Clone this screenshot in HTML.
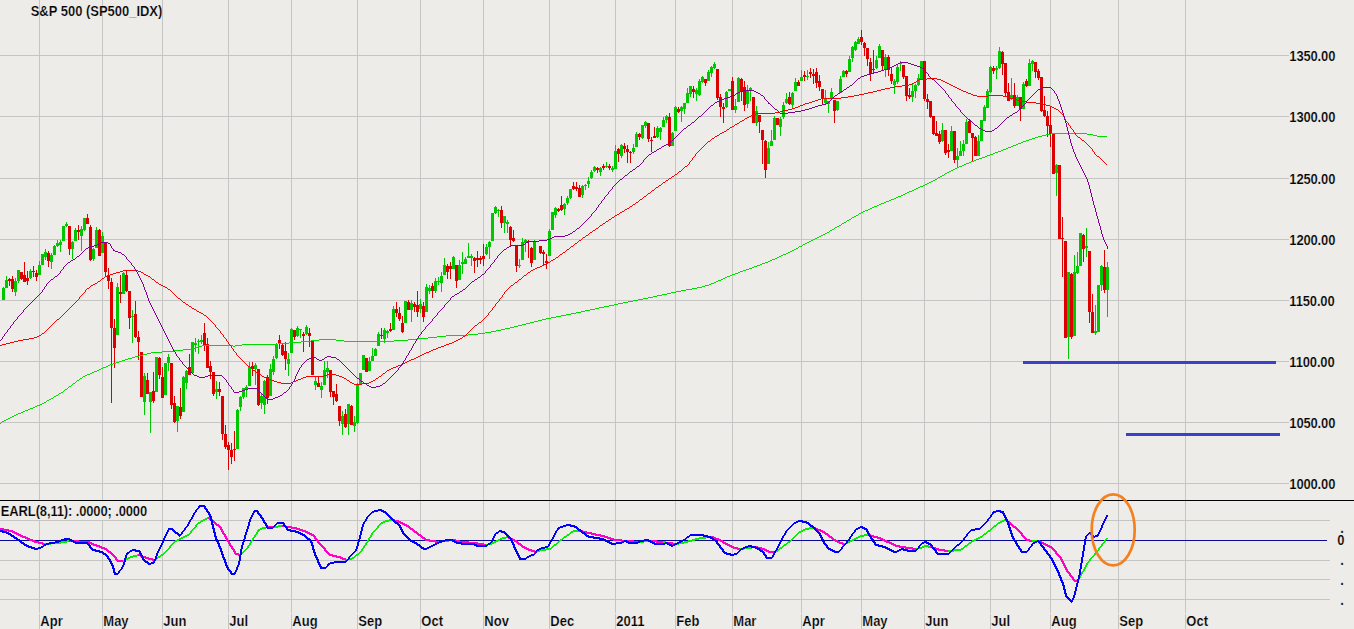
<!DOCTYPE html>
<html><head><meta charset="utf-8"><title>S&amp;P 500</title>
<style>
html,body{margin:0;padding:0;background:#EEECE8;}
body{width:1354px;height:629px;overflow:hidden;position:relative;font-family:"Liberation Sans",sans-serif;}
.t{position:absolute;white-space:nowrap;font-weight:bold;color:#000;line-height:1;font-family:"Liberation Sans",sans-serif;transform:scaleY(1.12);-webkit-text-stroke:0.2px #EEECE8;transform-origin:0 84.65%;}
</style></head><body>
<svg width="1354" height="629" viewBox="0 0 1354 629" style="position:absolute;left:0;top:0">
<rect x="0" y="0" width="1354" height="629" fill="#EEECE8"/>
<g shape-rendering="crispEdges" fill="#C5C5C3">
<rect x="39" y="0" width="1" height="629"/>
<rect x="102" y="0" width="1" height="629"/>
<rect x="162" y="0" width="1" height="629"/>
<rect x="228" y="0" width="1" height="629"/>
<rect x="291" y="0" width="1" height="629"/>
<rect x="357" y="0" width="1" height="629"/>
<rect x="420" y="0" width="1" height="629"/>
<rect x="483" y="0" width="1" height="629"/>
<rect x="549" y="0" width="1" height="629"/>
<rect x="615" y="0" width="1" height="629"/>
<rect x="675" y="0" width="1" height="629"/>
<rect x="732" y="0" width="1" height="629"/>
<rect x="801" y="0" width="1" height="629"/>
<rect x="861" y="0" width="1" height="629"/>
<rect x="924" y="0" width="1" height="629"/>
<rect x="990" y="0" width="1" height="629"/>
<rect x="1050" y="0" width="1" height="629"/>
<rect x="1118" y="0" width="1" height="629"/>
<rect x="1185" y="0" width="1" height="629"/>
<rect x="0" y="55" width="1289" height="1"/>
<rect x="0" y="116" width="1289" height="1"/>
<rect x="0" y="178" width="1289" height="1"/>
<rect x="0" y="239" width="1289" height="1"/>
<rect x="0" y="300" width="1289" height="1"/>
<rect x="0" y="361" width="1289" height="1"/>
<rect x="0" y="422" width="1289" height="1"/>
<rect x="0" y="483" width="1289" height="1"/>
<rect x="0" y="520" width="1330" height="1"/>
<rect x="0" y="560" width="1330" height="1"/>
<rect x="0" y="579" width="1330" height="1"/>
<rect x="0" y="599" width="1330" height="1"/>
</g>
<g shape-rendering="crispEdges">
<rect x="0" y="613" width="1200" height="1" fill="#EEECE8"/>
<rect x="0" y="500" width="1354" height="1" fill="#000"/>
<rect x="0" y="540" width="1327" height="1" fill="#0A0A96"/>
<rect x="0" y="501" width="150" height="19" fill="#EEECE8"/>
</g>
<g shape-rendering="crispEdges">
<path fill="#00C800" d="M3 287h1V300h-1zM2 288h3V300h-3zM6 276h1V288h-1zM5 280h3V288h-3zM15 278h1V296h-1zM14 281h3V292h-3zM18 270h1V283h-1zM17 270h3V281h-3zM30 269h1V279h-1zM29 271h3V278h-3zM39 261h1V275h-1zM38 265h3V275h-3zM42 254h1V265h-1zM41 254h3V265h-3zM45 249h1V260h-1zM44 252h3V257h-3zM51 253h1V269h-1zM50 255h3V262h-3zM54 245h1V255h-1zM53 246h3V255h-3zM57 240h1V247h-1zM56 243h3V246h-3zM60 240h1V252h-1zM59 242h3V245h-3zM63 226h1V241h-1zM62 226h3V241h-3zM66 222h1V227h-1zM65 224h3V226h-3zM72 241h1V259h-1zM71 242h3V249h-3zM75 228h1V241h-1zM74 230h3V241h-3zM81 226h1V251h-1zM80 229h3V236h-3zM84 218h1V231h-1zM83 218h3V230h-3zM93 248h1V261h-1zM92 249h3V259h-3zM96 227h1V248h-1zM95 230h3V248h-3zM102 232h1V253h-1zM101 236h3V253h-3zM117 283h1V335h-1zM116 287h3V335h-3zM123 272h1V294h-1zM122 273h3V294h-3zM132 310h1V343h-1zM131 316h3V317h-3zM144 373h1V415h-1zM143 376h3V402h-3zM150 392h1V433h-1zM149 392h3V402h-3zM156 357h1V392h-1zM155 357h3V392h-3zM165 363h1V395h-1zM164 363h3V395h-3zM168 354h1V371h-1zM167 357h3V363h-3zM177 406h1V432h-1zM176 406h3V421h-3zM183 376h1V412h-1zM182 377h3V412h-3zM186 370h1V389h-1zM185 371h3V383h-3zM192 342h1V373h-1zM191 342h3V373h-3zM195 338h1V352h-1zM194 343h3V345h-3zM198 339h1V354h-1zM197 341h3V342h-3zM201 335h1V344h-1zM200 340h3V342h-3zM216 381h1V399h-1zM215 389h3V392h-3zM237 409h1V449h-1zM236 410h3V449h-3zM240 396h1V411h-1zM239 397h3V407h-3zM243 388h1V399h-1zM242 388h3V397h-3zM246 385h1V397h-1zM245 387h3V390h-3zM249 362h1V386h-1zM248 367h3V386h-3zM255 363h1V385h-1zM254 365h3V369h-3zM261 394h1V409h-1zM260 396h3V403h-3zM264 380h1V414h-1zM263 381h3V405h-3zM270 364h1V396h-1zM269 369h3V396h-3zM273 356h1V375h-1zM272 359h3V372h-3zM276 343h1V359h-1zM275 344h3V358h-3zM288 353h1V376h-1zM287 359h3V364h-3zM291 328h1V353h-1zM290 329h3V353h-3zM297 326h1V337h-1zM296 328h3V336h-3zM300 329h1V338h-1zM299 329h3V330h-3zM306 325h1V335h-1zM305 327h3V334h-3zM315 377h1V390h-1zM314 381h3V385h-3zM321 382h1V398h-1zM320 386h3V390h-3zM324 361h1V385h-1zM323 370h3V385h-3zM327 361h1V378h-1zM326 368h3V372h-3zM342 411h1V435h-1zM341 416h3V424h-3zM348 404h1V435h-1zM347 404h3V424h-3zM354 416h1V432h-1zM353 422h3V426h-3zM357 383h1V424h-1zM356 384h3V423h-3zM360 373h1V384h-1zM359 373h3V384h-3zM363 355h1V370h-1zM362 355h3V370h-3zM369 357h1V371h-1zM368 361h3V371h-3zM372 348h1V361h-1zM371 356h3V361h-3zM375 348h1V356h-1zM374 349h3V356h-3zM378 332h1V346h-1zM377 334h3V346h-3zM384 328h1V343h-1zM383 330h3V339h-3zM387 330h1V338h-1zM386 331h3V333h-3zM393 306h1V330h-1zM392 309h3V330h-3zM405 301h1V323h-1zM404 301h3V323h-3zM411 300h1V322h-1zM410 303h3V310h-3zM420 299h1V313h-1zM419 304h3V309h-3zM426 284h1V312h-1zM425 287h3V312h-3zM429 285h1V294h-1zM428 288h3V291h-3zM435 278h1V293h-1zM434 281h3V291h-3zM438 277h1V285h-1zM437 281h3V282h-3zM441 272h1V292h-1zM440 276h3V283h-3zM444 258h1V275h-1zM443 265h3V275h-3zM453 256h1V269h-1zM452 257h3V269h-3zM459 260h1V280h-1zM458 265h3V280h-3zM462 252h1V274h-1zM461 262h3V264h-3zM465 257h1V264h-1zM464 259h3V264h-3zM468 243h1V258h-1zM467 256h3V258h-3zM471 254h1V266h-1zM470 256h3V258h-3zM486 244h1V255h-1zM485 247h3V254h-3zM489 241h1V259h-1zM488 242h3V247h-3zM492 213h1V241h-1zM491 213h3V241h-3zM495 206h1V214h-1zM494 207h3V213h-3zM498 209h1V217h-1zM497 210h3V211h-3zM504 216h1V233h-1zM503 216h3V223h-3zM507 220h1V233h-1zM506 222h3V224h-3zM519 259h1V268h-1zM518 265h3V266h-3zM522 238h1V260h-1zM521 242h3V260h-3zM525 239h1V252h-1zM524 240h3V243h-3zM534 240h1V260h-1zM533 242h3V260h-3zM549 229h1V256h-1zM548 231h3V256h-3zM552 212h1V230h-1zM551 212h3V230h-3zM555 207h1V218h-1zM554 208h3V215h-3zM564 203h1V215h-1zM563 204h3V209h-3zM567 196h1V205h-1zM566 198h3V203h-3zM570 189h1V199h-1zM569 189h3V198h-3zM582 185h1V198h-1zM581 186h3V195h-3zM585 184h1V190h-1zM584 185h3V186h-3zM588 177h1V188h-1zM587 181h3V184h-3zM591 170h1V179h-1zM590 172h3V178h-3zM594 166h1V172h-1zM593 167h3V171h-3zM600 167h1V176h-1zM599 168h3V172h-3zM606 162h1V168h-1zM605 166h3V167h-3zM612 166h1V172h-1zM611 168h3V170h-3zM615 145h1V169h-1zM614 151h3V169h-3zM621 144h1V158h-1zM620 145h3V156h-3zM633 144h1V154h-1zM632 148h3V152h-3zM636 132h1V147h-1zM635 134h3V147h-3zM642 125h1V139h-1zM641 125h3V138h-3zM645 121h1V128h-1zM644 122h3V126h-3zM657 126h1V138h-1zM656 128h3V137h-3zM660 127h1V140h-1zM659 128h3V132h-3zM663 117h1V127h-1zM662 120h3V127h-3zM666 115h1V123h-1zM665 116h3V120h-3zM672 132h1V146h-1zM671 133h3V146h-3zM675 106h1V131h-1zM674 107h3V131h-3zM681 106h1V122h-1zM680 107h3V111h-3zM684 103h1V114h-1zM683 103h3V109h-3zM687 88h1V103h-1zM686 93h3V103h-3zM690 86h1V97h-1zM689 86h3V94h-3zM696 88h1V101h-1zM695 90h3V94h-3zM699 79h1V96h-1zM698 81h3V95h-3zM702 76h1V83h-1zM701 77h3V82h-3zM708 70h1V81h-1zM707 72h3V81h-3zM711 66h1V77h-1zM710 67h3V73h-3zM714 62h1V69h-1zM713 64h3V68h-3zM726 91h1V108h-1zM725 92h3V107h-3zM729 89h1V91h-1zM728 89h3V91h-3zM735 99h1V113h-1zM734 106h3V110h-3zM738 77h1V102h-1zM737 78h3V102h-3zM747 85h1V108h-1zM746 90h3V104h-3zM750 87h1V101h-1zM749 88h3V90h-3zM756 106h1V126h-1zM755 111h3V123h-3zM768 142h1V164h-1zM767 148h3V164h-3zM771 130h1V146h-1zM770 141h3V146h-3zM774 116h1V140h-1zM773 118h3V140h-3zM780 117h1V136h-1zM779 119h3V127h-3zM783 102h1V119h-1zM782 105h3V117h-3zM786 93h1V104h-1zM785 99h3V103h-3zM792 92h1V109h-1zM791 93h3V105h-3zM795 78h1V91h-1zM794 82h3V91h-3zM801 70h1V81h-1zM800 77h3V81h-3zM807 70h1V80h-1zM806 76h3V77h-3zM825 90h1V105h-1zM824 98h3V103h-3zM828 101h1V113h-1zM827 101h3V104h-3zM831 88h1V98h-1zM830 92h3V98h-3zM837 101h1V111h-1zM836 101h3V110h-3zM840 76h1V93h-1zM839 79h3V93h-3zM843 70h1V77h-1zM842 71h3V77h-3zM849 56h1V72h-1zM848 59h3V72h-3zM852 46h1V62h-1zM851 47h3V58h-3zM855 41h1V51h-1zM854 42h3V50h-3zM858 37h1V44h-1zM857 39h3V44h-3zM876 56h1V69h-1zM875 60h3V68h-3zM879 44h1V58h-1zM878 46h3V58h-3zM885 54h1V77h-1zM884 57h3V69h-3zM894 79h1V94h-1zM893 81h3V85h-3zM897 65h1V84h-1zM896 67h3V82h-3zM900 61h1V71h-1zM899 63h3V64h-3zM912 84h1V102h-1zM911 91h3V97h-3zM915 84h1V98h-1zM914 85h3V91h-3zM918 74h1V86h-1zM917 78h3V85h-3zM921 61h1V80h-1zM920 61h3V80h-3zM942 123h1V142h-1zM941 130h3V141h-3zM951 126h1V151h-1zM950 131h3V151h-3zM957 148h1V167h-1zM956 156h3V160h-3zM960 141h1V156h-1zM959 151h3V156h-3zM963 140h1V156h-1zM962 144h3V151h-3zM966 119h1V144h-1zM965 122h3V144h-3zM978 135h1V156h-1zM977 141h3V156h-3zM981 120h1V141h-1zM980 120h3V141h-3zM984 105h1V121h-1zM983 107h3V121h-3zM987 89h1V108h-1zM986 91h3V108h-3zM990 66h1V93h-1zM989 67h3V92h-3zM996 66h1V79h-1zM995 68h3V70h-3zM999 47h1V69h-1zM998 51h3V68h-3zM1011 78h1V100h-1zM1010 95h3V99h-3zM1017 95h1V106h-1zM1016 97h3V106h-3zM1023 82h1V109h-1zM1022 84h3V109h-3zM1029 59h1V86h-1zM1028 63h3V86h-3zM1032 60h1V71h-1zM1031 61h3V64h-3zM1056 164h1V196h-1zM1055 165h3V173h-3zM1068 272h1V359h-1zM1067 272h3V337h-3zM1074 255h1V336h-1zM1073 272h3V336h-3zM1077 252h1V274h-1zM1076 266h3V273h-3zM1080 233h1V266h-1zM1079 233h3V266h-3zM1086 228h1V257h-1zM1085 246h3V248h-3zM1095 305h1V335h-1zM1094 331h3V333h-3zM1098 285h1V332h-1zM1097 285h3V332h-3zM1101 265h1V291h-1zM1100 266h3V285h-3zM1107 262h1V317h-1zM1106 267h3V290h-3z"/>
<path fill="#DC0000" d="M9 278h1V286h-1zM8 279h3V281h-3zM12 276h1V292h-1zM11 279h3V289h-3zM21 272h1V280h-1zM20 272h3V279h-3zM24 262h1V282h-1zM23 275h3V282h-3zM27 271h1V285h-1zM26 278h3V281h-3zM33 266h1V277h-1zM32 271h3V272h-3zM36 270h1V281h-1zM35 273h3V277h-3zM48 251h1V267h-1zM47 253h3V261h-3zM69 226h1V255h-1zM68 226h3V249h-3zM78 225h1V240h-1zM77 230h3V232h-3zM87 214h1V224h-1zM86 218h3V224h-3zM90 225h1V261h-1zM89 227h3V260h-3zM99 229h1V256h-1zM98 230h3V256h-3zM105 242h1V277h-1zM104 243h3V272h-3zM108 268h1V289h-1zM107 276h3V281h-3zM111 278h1V403h-1zM110 282h3V328h-3zM114 319h1V368h-1zM113 328h3V348h-3zM120 275h1V303h-1zM119 292h3V294h-3zM126 271h1V292h-1zM125 275h3V291h-3zM129 291h1V329h-1zM128 291h3V318h-3zM135 301h1V338h-1zM134 314h3V337h-3zM138 331h1V360h-1zM137 337h3V342h-3zM141 352h1V397h-1zM140 352h3V397h-3zM147 373h1V394h-1zM146 380h3V394h-3zM153 372h1V403h-1zM152 391h3V401h-3zM159 357h1V379h-1zM158 358h3V375h-3zM162 367h1V398h-1zM161 377h3V398h-3zM171 363h1V409h-1zM170 363h3V405h-3zM174 396h1V423h-1zM173 403h3V422h-3zM180 388h1V419h-1zM179 407h3V416h-3zM189 354h1V375h-1zM188 367h3V375h-3zM204 323h1V351h-1zM203 333h3V346h-3zM207 338h1V368h-1zM206 344h3V368h-3zM210 361h1V379h-1zM209 366h3V372h-3zM213 372h1V396h-1zM212 372h3V394h-3zM219 382h1V396h-1zM218 389h3V392h-3zM222 396h1V440h-1zM221 396h3V434h-3zM225 425h1V449h-1zM224 434h3V447h-3zM228 442h1V470h-1zM227 445h3V450h-3zM231 443h1V464h-1zM230 450h3V457h-3zM234 431h1V461h-1zM233 449h3V450h-3zM252 362h1V376h-1zM251 366h3V369h-3zM258 369h1V406h-1zM257 369h3V405h-3zM267 375h1V404h-1zM266 377h3V398h-3zM279 335h1V349h-1zM278 340h3V344h-3zM282 344h1V356h-1zM281 345h3V355h-3zM285 342h1V370h-1zM284 351h3V359h-3zM294 330h1V340h-1zM293 330h3V337h-3zM303 332h1V352h-1zM302 334h3V336h-3zM309 328h1V347h-1zM308 333h3V336h-3zM312 341h1V375h-1zM311 341h3V375h-3zM318 377h1V387h-1zM317 383h3V387h-3zM330 370h1V397h-1zM329 370h3V392h-3zM333 391h1V405h-1zM332 391h3V397h-3zM336 384h1V402h-1zM335 394h3V401h-3zM339 406h1V426h-1zM338 406h3V421h-3zM345 409h1V428h-1zM344 414h3V427h-3zM351 405h1V425h-1zM350 406h3V425h-3zM366 358h1V372h-1zM365 358h3V372h-3zM381 328h1V339h-1zM380 335h3V336h-3zM390 323h1V332h-1zM389 329h3V331h-3zM396 302h1V317h-1zM395 309h3V313h-3zM399 307h1V321h-1zM398 313h3V319h-3zM402 316h1V333h-1zM401 323h3V332h-3zM408 300h1V310h-1zM407 302h3V310h-3zM414 302h1V312h-1zM413 304h3V307h-3zM417 291h1V317h-1zM416 305h3V312h-3zM423 302h1V322h-1zM422 306h3V317h-3zM432 283h1V298h-1zM431 286h3V291h-3zM447 264h1V279h-1zM446 266h3V272h-3zM450 262h1V279h-1zM449 266h3V269h-3zM456 265h1V288h-1zM455 265h3V281h-3zM474 257h1V273h-1zM473 258h3V261h-3zM477 251h1V267h-1zM476 258h3V260h-3zM480 256h1V264h-1zM479 258h3V260h-3zM483 244h1V266h-1zM482 256h3V259h-3zM501 206h1V228h-1zM500 210h3V223h-3zM510 226h1V246h-1zM509 227h3V240h-3zM513 230h1V242h-1zM512 238h3V241h-3zM516 245h1V272h-1zM515 246h3V266h-3zM528 240h1V258h-1zM527 241h3V242h-3zM531 247h1V267h-1zM530 248h3V263h-3zM540 246h1V254h-1zM539 246h3V253h-3zM543 250h1V265h-1zM542 252h3V254h-3zM546 254h1V269h-1zM545 261h3V263h-3zM558 208h1V212h-1zM557 209h3V211h-3zM561 196h1V211h-1zM560 205h3V210h-3zM573 182h1V190h-1zM572 186h3V189h-3zM576 182h1V191h-1zM575 187h3V189h-3zM579 185h1V197h-1zM578 188h3V197h-3zM597 167h1V173h-1zM596 168h3V170h-3zM603 164h1V170h-1zM602 166h3V168h-3zM609 164h1V170h-1zM608 166h3V168h-3zM618 148h1V162h-1zM617 149h3V154h-3zM624 143h1V153h-1zM623 146h3V149h-3zM627 145h1V163h-1zM626 149h3V152h-3zM630 151h1V163h-1zM629 152h3V153h-3zM639 133h1V140h-1zM638 134h3V137h-3zM648 123h1V142h-1zM647 123h3V139h-3zM651 137h1V152h-1zM650 140h3V141h-3zM654 127h1V138h-1zM653 136h3V138h-3zM669 113h1V147h-1zM668 117h3V146h-3zM678 107h1V113h-1zM677 109h3V112h-3zM693 86h1V98h-1zM692 89h3V92h-3zM705 79h1V86h-1zM704 79h3V83h-3zM717 69h1V100h-1zM716 69h3V98h-3zM720 94h1V117h-1zM719 97h3V107h-3zM723 103h1V123h-1zM722 107h3V109h-3zM732 77h1V110h-1zM731 81h3V110h-3zM741 78h1V101h-1zM740 79h3V91h-3zM744 81h1V111h-1zM743 87h3V105h-3zM753 97h1V123h-1zM752 97h3V123h-3zM759 115h1V133h-1zM758 115h3V122h-3zM762 130h1V164h-1zM761 130h3V140h-3zM765 140h1V178h-1zM764 141h3V170h-3zM777 118h1V125h-1zM776 118h3V125h-3zM789 92h1V105h-1zM788 97h3V104h-3zM798 80h1V86h-1zM797 82h3V86h-3zM804 71h1V81h-1zM803 75h3V77h-3zM810 68h1V78h-1zM809 72h3V74h-3zM813 69h1V84h-1zM812 74h3V76h-3zM816 68h1V88h-1zM815 72h3V83h-3zM819 75h1V91h-1zM818 81h3V87h-3zM822 89h1V104h-1zM821 89h3V99h-3zM834 100h1V123h-1zM833 100h3V111h-3zM846 70h1V77h-1zM845 71h3V74h-3zM861 30h1V45h-1zM860 37h3V42h-3zM864 42h1V56h-1zM863 43h3V48h-3zM867 48h1V66h-1zM866 48h3V59h-3zM870 58h1V81h-1zM869 62h3V74h-3zM873 50h1V74h-1zM872 69h3V70h-3zM882 50h1V71h-1zM881 50h3V66h-3zM888 55h1V76h-1zM887 57h3V70h-3zM891 67h1V84h-1zM890 74h3V81h-3zM903 65h1V79h-1zM902 65h3V77h-3zM906 76h1V101h-1zM905 76h3V96h-3zM909 88h1V99h-1zM908 95h3V97h-3zM924 61h1V101h-1zM923 61h3V99h-3zM927 94h1V109h-1zM926 99h3V102h-3zM930 101h1V118h-1zM929 101h3V117h-3zM933 116h1V135h-1zM932 116h3V134h-3zM936 121h1V136h-1zM935 133h3V136h-3zM939 131h1V144h-1zM938 134h3V142h-3zM945 130h1V155h-1zM944 130h3V153h-3zM948 144h1V158h-1zM947 150h3V152h-3zM954 131h1V163h-1zM953 131h3V160h-3zM969 119h1V133h-1zM968 121h3V133h-3zM972 133h1V161h-1zM971 133h3V138h-3zM975 136h1V156h-1zM974 137h3V156h-3zM993 66h1V74h-1zM992 68h3V71h-3zM1002 51h1V75h-1zM1001 52h3V64h-3zM1005 63h1V96h-1zM1004 63h3V93h-3zM1008 83h1V101h-1zM1007 92h3V101h-3zM1014 83h1V108h-1zM1013 95h3V106h-3zM1020 97h1V121h-1zM1019 97h3V109h-3zM1026 79h1V87h-1zM1025 81h3V86h-3zM1035 62h1V78h-1zM1034 62h3V72h-3zM1038 69h1V80h-1zM1037 71h3V78h-3zM1041 77h1V112h-1zM1040 77h3V111h-3zM1044 96h1V117h-1zM1043 110h3V116h-3zM1047 111h1V137h-1zM1046 116h3V126h-3zM1050 107h1V147h-1zM1049 125h3V134h-3zM1053 133h1V174h-1zM1052 134h3V174h-3zM1059 165h1V239h-1zM1058 165h3V239h-3zM1062 217h1V277h-1zM1061 238h3V239h-3zM1065 241h1V338h-1zM1064 241h3V338h-3zM1071 273h1V339h-1zM1070 274h3V337h-3zM1083 234h1V262h-1zM1082 235h3V249h-3zM1089 251h1V323h-1zM1088 251h3V312h-3zM1092 294h1V333h-1zM1091 312h3V333h-3zM1104 250h1V293h-1zM1103 267h3V290h-3z"/>
</g>
<path fill="#00DC00" shape-rendering="crispEdges" d="M0 423h1v1h-1zM1 422h1v1h-1zM2 421h1v1h-1zM3 421h1v1h-1zM4 420h1v1h-1zM5 420h1v1h-1zM6 419h1v1h-1zM7 419h1v1h-1zM8 418h1v1h-1zM9 418h1v1h-1zM10 417h1v1h-1zM11 417h1v1h-1zM12 416h1v1h-1zM13 416h1v1h-1zM14 415h1v1h-1zM15 415h1v1h-1zM16 414h1v1h-1zM17 414h1v1h-1zM18 413h1v1h-1zM19 413h1v1h-1zM20 413h1v1h-1zM21 412h1v1h-1zM22 412h1v1h-1zM23 411h1v1h-1zM24 411h1v1h-1zM25 410h1v1h-1zM26 410h1v1h-1zM27 410h1v1h-1zM28 409h1v1h-1zM29 409h1v1h-1zM30 408h1v1h-1zM31 408h1v1h-1zM32 408h1v1h-1zM33 407h1v1h-1zM34 407h1v1h-1zM35 406h1v1h-1zM36 406h1v1h-1zM37 405h1v1h-1zM38 405h1v1h-1zM39 405h1v1h-1zM40 404h1v1h-1zM41 404h1v1h-1zM42 403h1v1h-1zM43 403h1v1h-1zM44 402h1v1h-1zM45 402h1v1h-1zM46 401h1v1h-1zM47 400h1v1h-1zM48 400h1v1h-1zM49 399h1v1h-1zM50 399h1v1h-1zM51 398h1v1h-1zM52 398h1v1h-1zM53 397h1v1h-1zM54 396h1v1h-1zM55 396h1v1h-1zM56 395h1v1h-1zM57 395h1v1h-1zM58 394h1v1h-1zM59 393h1v1h-1zM60 393h1v1h-1zM61 392h1v1h-1zM62 392h1v1h-1zM63 391h1v1h-1zM64 390h1v1h-1zM65 389h1v1h-1zM66 389h1v1h-1zM67 388h1v1h-1zM68 387h1v1h-1zM69 386h1v1h-1zM70 386h1v1h-1zM71 385h1v1h-1zM72 384h1v1h-1zM73 383h1v1h-1zM74 383h1v1h-1zM75 382h1v1h-1zM76 381h1v1h-1zM77 380h1v1h-1zM78 380h1v1h-1zM79 379h1v1h-1zM80 378h1v1h-1zM81 378h1v1h-1zM82 377h1v1h-1zM83 376h1v1h-1zM84 376h1v1h-1zM85 375h1v1h-1zM86 375h1v1h-1zM87 374h1v1h-1zM88 374h1v1h-1zM89 374h1v1h-1zM90 373h1v1h-1zM91 373h1v1h-1zM92 372h1v1h-1zM93 372h1v1h-1zM94 371h1v1h-1zM95 371h1v1h-1zM96 371h1v1h-1zM97 370h1v1h-1zM98 370h1v1h-1zM99 369h1v1h-1zM100 369h1v1h-1zM101 368h1v1h-1zM102 368h1v1h-1zM103 367h1v1h-1zM104 367h1v1h-1zM105 367h1v1h-1zM106 366h1v1h-1zM107 366h1v1h-1zM108 365h1v1h-1zM109 365h1v1h-1zM110 364h1v1h-1zM111 364h1v1h-1zM112 364h1v1h-1zM113 363h1v1h-1zM114 363h1v1h-1zM115 363h1v1h-1zM116 362h1v1h-1zM117 362h1v1h-1zM118 362h1v1h-1zM119 361h1v1h-1zM120 361h1v1h-1zM121 361h1v1h-1zM122 360h1v1h-1zM123 360h1v1h-1zM124 360h1v1h-1zM125 359h1v1h-1zM126 359h1v1h-1zM127 359h1v1h-1zM128 358h1v1h-1zM129 358h1v1h-1zM130 358h1v1h-1zM131 358h1v1h-1zM132 357h1v1h-1zM133 357h1v1h-1zM134 357h1v1h-1zM135 356h1v1h-1zM136 356h1v1h-1zM137 356h1v1h-1zM138 356h1v1h-1zM139 355h1v1h-1zM140 355h1v1h-1zM141 355h1v1h-1zM142 355h1v1h-1zM143 354h1v1h-1zM144 354h1v1h-1zM145 354h1v1h-1zM146 354h1v1h-1zM147 353h1v1h-1zM148 353h1v1h-1zM149 353h1v1h-1zM150 353h1v1h-1zM151 352h1v1h-1zM152 352h1v1h-1zM153 352h1v1h-1zM154 352h1v1h-1zM155 352h1v1h-1zM156 352h1v1h-1zM157 352h1v1h-1zM158 352h1v1h-1zM159 352h1v1h-1zM160 352h1v1h-1zM161 352h1v1h-1zM162 351h1v1h-1zM163 351h1v1h-1zM164 351h1v1h-1zM165 351h1v1h-1zM166 351h1v1h-1zM167 351h1v1h-1zM168 351h1v1h-1zM169 351h1v1h-1zM170 351h1v1h-1zM171 351h1v1h-1zM172 351h1v1h-1zM173 351h1v1h-1zM174 350h1v1h-1zM175 350h1v1h-1zM176 350h1v1h-1zM177 350h1v1h-1zM178 350h1v1h-1zM179 350h1v1h-1zM180 350h1v1h-1zM181 350h1v1h-1zM182 350h1v1h-1zM183 349h1v1h-1zM184 349h1v1h-1zM185 349h1v1h-1zM186 349h1v1h-1zM187 349h1v1h-1zM188 349h1v1h-1zM189 349h1v1h-1zM190 349h1v1h-1zM191 349h1v1h-1zM192 349h1v1h-1zM193 348h1v1h-1zM194 348h1v1h-1zM195 348h1v1h-1zM196 347h1v1h-1zM197 347h1v1h-1zM198 346h1v1h-1zM199 346h1v1h-1zM200 346h1v1h-1zM201 346h1v1h-1zM202 345h1v1h-1zM203 345h1v1h-1zM204 345h1v1h-1zM205 345h1v1h-1zM206 345h1v1h-1zM207 345h1v1h-1zM208 345h1v1h-1zM209 345h1v1h-1zM210 345h1v1h-1zM211 345h1v1h-1zM212 345h1v1h-1zM213 345h1v1h-1zM214 345h1v1h-1zM215 345h1v1h-1zM216 345h1v1h-1zM217 345h1v1h-1zM218 345h1v1h-1zM219 345h1v1h-1zM220 345h1v1h-1zM221 345h1v1h-1zM222 345h1v1h-1zM223 345h1v1h-1zM224 345h1v1h-1zM225 345h1v1h-1zM226 345h1v1h-1zM227 345h1v1h-1zM228 345h1v1h-1zM229 345h1v1h-1zM230 345h1v1h-1zM231 345h1v1h-1zM232 345h1v1h-1zM233 346h1v1h-1zM234 346h1v1h-1zM235 345h1v1h-1zM236 345h1v1h-1zM237 345h1v1h-1zM238 345h1v1h-1zM239 345h1v1h-1zM240 345h1v1h-1zM241 345h1v1h-1zM242 344h1v1h-1zM243 344h1v1h-1zM244 344h1v1h-1zM245 344h1v1h-1zM246 344h1v1h-1zM247 344h1v1h-1zM248 344h1v1h-1zM249 344h1v1h-1zM250 344h1v1h-1zM251 344h1v1h-1zM252 344h1v1h-1zM253 344h1v1h-1zM254 344h1v1h-1zM255 344h1v1h-1zM256 344h1v1h-1zM257 344h1v1h-1zM258 344h1v1h-1zM259 344h1v1h-1zM260 344h1v1h-1zM261 344h1v1h-1zM262 344h1v1h-1zM263 344h1v1h-1zM264 344h1v1h-1zM265 344h1v1h-1zM266 344h1v1h-1zM267 344h1v1h-1zM268 344h1v1h-1zM269 344h1v1h-1zM270 344h1v1h-1zM271 344h1v1h-1zM272 344h1v1h-1zM273 344h1v1h-1zM274 344h1v1h-1zM275 344h1v1h-1zM276 344h1v1h-1zM277 344h1v1h-1zM278 343h1v1h-1zM279 343h1v1h-1zM280 343h1v1h-1zM281 343h1v1h-1zM282 343h1v1h-1zM283 343h1v1h-1zM284 343h1v1h-1zM285 343h1v1h-1zM286 343h1v1h-1zM287 343h1v1h-1zM288 343h1v1h-1zM289 342h1v1h-1zM290 342h1v1h-1zM291 342h1v1h-1zM292 342h1v1h-1zM293 342h1v1h-1zM294 342h1v1h-1zM295 342h1v1h-1zM296 342h1v1h-1zM297 342h1v1h-1zM298 342h1v1h-1zM299 342h1v1h-1zM300 342h1v1h-1zM301 341h1v1h-1zM302 341h1v1h-1zM303 341h1v1h-1zM304 341h1v1h-1zM305 341h1v1h-1zM306 341h1v1h-1zM307 341h1v1h-1zM308 341h1v1h-1zM309 341h1v1h-1zM310 341h1v1h-1zM311 340h1v1h-1zM312 340h1v1h-1zM313 340h1v1h-1zM314 340h1v1h-1zM315 340h1v1h-1zM316 340h1v1h-1zM317 340h1v1h-1zM318 340h1v1h-1zM319 339h1v1h-1zM320 339h1v1h-1zM321 339h1v1h-1zM322 339h1v1h-1zM323 339h1v1h-1zM324 339h1v1h-1zM325 339h1v1h-1zM326 339h1v1h-1zM327 339h1v1h-1zM328 339h1v1h-1zM329 339h1v1h-1zM330 339h1v1h-1zM331 339h1v1h-1zM332 339h1v1h-1zM333 339h1v1h-1zM334 339h1v1h-1zM335 339h1v1h-1zM336 340h1v1h-1zM337 340h1v1h-1zM338 340h1v1h-1zM339 340h1v1h-1zM340 340h1v1h-1zM341 340h1v1h-1zM342 340h1v1h-1zM343 340h1v1h-1zM344 341h1v1h-1zM345 341h1v1h-1zM346 341h1v1h-1zM347 341h1v1h-1zM348 341h1v1h-1zM349 341h1v1h-1zM350 341h1v1h-1zM351 341h1v1h-1zM352 341h1v1h-1zM353 341h1v1h-1zM354 341h1v1h-1zM355 341h1v1h-1zM356 341h1v1h-1zM357 341h1v1h-1zM358 341h1v1h-1zM359 341h1v1h-1zM360 341h1v1h-1zM361 341h1v1h-1zM362 341h1v1h-1zM363 341h1v1h-1zM364 341h1v1h-1zM365 341h1v1h-1zM366 341h1v1h-1zM367 341h1v1h-1zM368 341h1v1h-1zM369 341h1v1h-1zM370 341h1v1h-1zM371 341h1v1h-1zM372 341h1v1h-1zM373 341h1v1h-1zM374 341h1v1h-1zM375 341h1v1h-1zM376 341h1v1h-1zM377 341h1v1h-1zM378 341h1v1h-1zM379 341h1v1h-1zM380 341h1v1h-1zM381 341h1v1h-1zM382 341h1v1h-1zM383 341h1v1h-1zM384 341h1v1h-1zM385 341h1v1h-1zM386 341h1v1h-1zM387 341h1v1h-1zM388 341h1v1h-1zM389 341h1v1h-1zM390 341h1v1h-1zM391 341h1v1h-1zM392 341h1v1h-1zM393 341h1v1h-1zM394 340h1v1h-1zM395 340h1v1h-1zM396 340h1v1h-1zM397 340h1v1h-1zM398 340h1v1h-1zM399 340h1v1h-1zM400 340h1v1h-1zM401 340h1v1h-1zM402 340h1v1h-1zM403 340h1v1h-1zM404 340h1v1h-1zM405 340h1v1h-1zM406 340h1v1h-1zM407 340h1v1h-1zM408 339h1v1h-1zM409 339h1v1h-1zM410 339h1v1h-1zM411 339h1v1h-1zM412 339h1v1h-1zM413 339h1v1h-1zM414 339h1v1h-1zM415 339h1v1h-1zM416 339h1v1h-1zM417 339h1v1h-1zM418 338h1v1h-1zM419 338h1v1h-1zM420 338h1v1h-1zM421 338h1v1h-1zM422 338h1v1h-1zM423 338h1v1h-1zM424 338h1v1h-1zM425 338h1v1h-1zM426 338h1v1h-1zM427 338h1v1h-1zM428 337h1v1h-1zM429 337h1v1h-1zM430 337h1v1h-1zM431 337h1v1h-1zM432 337h1v1h-1zM433 337h1v1h-1zM434 337h1v1h-1zM435 337h1v1h-1zM436 337h1v1h-1zM437 336h1v1h-1zM438 336h1v1h-1zM439 336h1v1h-1zM440 336h1v1h-1zM441 336h1v1h-1zM442 336h1v1h-1zM443 336h1v1h-1zM444 336h1v1h-1zM445 336h1v1h-1zM446 335h1v1h-1zM447 335h1v1h-1zM448 335h1v1h-1zM449 335h1v1h-1zM450 335h1v1h-1zM451 335h1v1h-1zM452 335h1v1h-1zM453 335h1v1h-1zM454 335h1v1h-1zM455 335h1v1h-1zM456 335h1v1h-1zM457 335h1v1h-1zM458 335h1v1h-1zM459 335h1v1h-1zM460 335h1v1h-1zM461 335h1v1h-1zM462 335h1v1h-1zM463 335h1v1h-1zM464 335h1v1h-1zM465 335h1v1h-1zM466 335h1v1h-1zM467 335h1v1h-1zM468 334h1v1h-1zM469 334h1v1h-1zM470 334h1v1h-1zM471 334h1v1h-1zM472 334h1v1h-1zM473 334h1v1h-1zM474 334h1v1h-1zM475 334h1v1h-1zM476 334h1v1h-1zM477 334h1v1h-1zM478 333h1v1h-1zM479 333h1v1h-1zM480 333h1v1h-1zM481 333h1v1h-1zM482 333h1v1h-1zM483 333h1v1h-1zM484 333h1v1h-1zM485 332h1v1h-1zM486 332h1v1h-1zM487 332h1v1h-1zM488 332h1v1h-1zM489 332h1v1h-1zM490 332h1v1h-1zM491 331h1v1h-1zM492 331h1v1h-1zM493 331h1v1h-1zM494 331h1v1h-1zM495 331h1v1h-1zM496 330h1v1h-1zM497 330h1v1h-1zM498 330h1v1h-1zM499 330h1v1h-1zM500 330h1v1h-1zM501 329h1v1h-1zM502 329h1v1h-1zM503 329h1v1h-1zM504 329h1v1h-1zM505 328h1v1h-1zM506 328h1v1h-1zM507 328h1v1h-1zM508 328h1v1h-1zM509 328h1v1h-1zM510 327h1v1h-1zM511 327h1v1h-1zM512 327h1v1h-1zM513 327h1v1h-1zM514 326h1v1h-1zM515 326h1v1h-1zM516 326h1v1h-1zM517 326h1v1h-1zM518 325h1v1h-1zM519 325h1v1h-1zM520 325h1v1h-1zM521 325h1v1h-1zM522 324h1v1h-1zM523 324h1v1h-1zM524 324h1v1h-1zM525 324h1v1h-1zM526 323h1v1h-1zM527 323h1v1h-1zM528 323h1v1h-1zM529 323h1v1h-1zM530 322h1v1h-1zM531 322h1v1h-1zM532 322h1v1h-1zM533 322h1v1h-1zM534 321h1v1h-1zM535 321h1v1h-1zM536 321h1v1h-1zM537 321h1v1h-1zM538 320h1v1h-1zM539 320h1v1h-1zM540 320h1v1h-1zM541 320h1v1h-1zM542 319h1v1h-1zM543 319h1v1h-1zM544 319h1v1h-1zM545 319h1v1h-1zM546 318h1v1h-1zM547 318h1v1h-1zM548 318h1v1h-1zM549 318h1v1h-1zM550 318h1v1h-1zM551 317h1v1h-1zM552 317h1v1h-1zM553 317h1v1h-1zM554 317h1v1h-1zM555 317h1v1h-1zM556 316h1v1h-1zM557 316h1v1h-1zM558 316h1v1h-1zM559 316h1v1h-1zM560 316h1v1h-1zM561 315h1v1h-1zM562 315h1v1h-1zM563 315h1v1h-1zM564 315h1v1h-1zM565 315h1v1h-1zM566 314h1v1h-1zM567 314h1v1h-1zM568 314h1v1h-1zM569 314h1v1h-1zM570 314h1v1h-1zM571 313h1v1h-1zM572 313h1v1h-1zM573 313h1v1h-1zM574 313h1v1h-1zM575 313h1v1h-1zM576 312h1v1h-1zM577 312h1v1h-1zM578 312h1v1h-1zM579 312h1v1h-1zM580 312h1v1h-1zM581 311h1v1h-1zM582 311h1v1h-1zM583 311h1v1h-1zM584 311h1v1h-1zM585 310h1v1h-1zM586 310h1v1h-1zM587 310h1v1h-1zM588 310h1v1h-1zM589 310h1v1h-1zM590 309h1v1h-1zM591 309h1v1h-1zM592 309h1v1h-1zM593 309h1v1h-1zM594 309h1v1h-1zM595 308h1v1h-1zM596 308h1v1h-1zM597 308h1v1h-1zM598 308h1v1h-1zM599 307h1v1h-1zM600 307h1v1h-1zM601 307h1v1h-1zM602 307h1v1h-1zM603 307h1v1h-1zM604 306h1v1h-1zM605 306h1v1h-1zM606 306h1v1h-1zM607 306h1v1h-1zM608 306h1v1h-1zM609 305h1v1h-1zM610 305h1v1h-1zM611 305h1v1h-1zM612 305h1v1h-1zM613 305h1v1h-1zM614 304h1v1h-1zM615 304h1v1h-1zM616 304h1v1h-1zM617 304h1v1h-1zM618 303h1v1h-1zM619 303h1v1h-1zM620 303h1v1h-1zM621 303h1v1h-1zM622 303h1v1h-1zM623 302h1v1h-1zM624 302h1v1h-1zM625 302h1v1h-1zM626 302h1v1h-1zM627 302h1v1h-1zM628 301h1v1h-1zM629 301h1v1h-1zM630 301h1v1h-1zM631 301h1v1h-1zM632 301h1v1h-1zM633 300h1v1h-1zM634 300h1v1h-1zM635 300h1v1h-1zM636 300h1v1h-1zM637 300h1v1h-1zM638 299h1v1h-1zM639 299h1v1h-1zM640 299h1v1h-1zM641 299h1v1h-1zM642 299h1v1h-1zM643 298h1v1h-1zM644 298h1v1h-1zM645 298h1v1h-1zM646 298h1v1h-1zM647 298h1v1h-1zM648 297h1v1h-1zM649 297h1v1h-1zM650 297h1v1h-1zM651 297h1v1h-1zM652 297h1v1h-1zM653 296h1v1h-1zM654 296h1v1h-1zM655 296h1v1h-1zM656 296h1v1h-1zM657 295h1v1h-1zM658 295h1v1h-1zM659 295h1v1h-1zM660 295h1v1h-1zM661 295h1v1h-1zM662 294h1v1h-1zM663 294h1v1h-1zM664 294h1v1h-1zM665 294h1v1h-1zM666 294h1v1h-1zM667 293h1v1h-1zM668 293h1v1h-1zM669 293h1v1h-1zM670 293h1v1h-1zM671 292h1v1h-1zM672 292h1v1h-1zM673 292h1v1h-1zM674 292h1v1h-1zM675 292h1v1h-1zM676 291h1v1h-1zM677 291h1v1h-1zM678 291h1v1h-1zM679 291h1v1h-1zM680 291h1v1h-1zM681 290h1v1h-1zM682 290h1v1h-1zM683 290h1v1h-1zM684 290h1v1h-1zM685 290h1v1h-1zM686 289h1v1h-1zM687 289h1v1h-1zM688 289h1v1h-1zM689 289h1v1h-1zM690 289h1v1h-1zM691 289h1v1h-1zM692 288h1v1h-1zM693 288h1v1h-1zM694 288h1v1h-1zM695 288h1v1h-1zM696 288h1v1h-1zM697 287h1v1h-1zM698 287h1v1h-1zM699 287h1v1h-1zM700 287h1v1h-1zM701 287h1v1h-1zM702 286h1v1h-1zM703 286h1v1h-1zM704 286h1v1h-1zM705 285h1v1h-1zM706 285h1v1h-1zM707 285h1v1h-1zM708 285h1v1h-1zM709 284h1v1h-1zM710 284h1v1h-1zM711 283h1v1h-1zM712 283h1v1h-1zM713 283h1v1h-1zM714 282h1v1h-1zM715 282h1v1h-1zM716 281h1v1h-1zM717 281h1v1h-1zM718 280h1v1h-1zM719 280h1v1h-1zM720 280h1v1h-1zM721 279h1v1h-1zM722 279h1v1h-1zM723 278h1v1h-1zM724 278h1v1h-1zM725 277h1v1h-1zM726 277h1v1h-1zM727 276h1v1h-1zM728 276h1v1h-1zM729 276h1v1h-1zM730 275h1v1h-1zM731 275h1v1h-1zM732 274h1v1h-1zM733 274h1v1h-1zM734 274h1v1h-1zM735 273h1v1h-1zM736 273h1v1h-1zM737 273h1v1h-1zM738 272h1v1h-1zM739 272h1v1h-1zM740 271h1v1h-1zM741 271h1v1h-1zM742 271h1v1h-1zM743 270h1v1h-1zM744 270h1v1h-1zM745 270h1v1h-1zM746 269h1v1h-1zM747 269h1v1h-1zM748 269h1v1h-1zM749 268h1v1h-1zM750 268h1v1h-1zM751 268h1v1h-1zM752 267h1v1h-1zM753 267h1v1h-1zM754 266h1v1h-1zM755 266h1v1h-1zM756 266h1v1h-1zM757 265h1v1h-1zM758 265h1v1h-1zM759 265h1v1h-1zM760 264h1v1h-1zM761 264h1v1h-1zM762 263h1v1h-1zM763 263h1v1h-1zM764 263h1v1h-1zM765 262h1v1h-1zM766 262h1v1h-1zM767 262h1v1h-1zM768 261h1v1h-1zM769 261h1v1h-1zM770 260h1v1h-1zM771 260h1v1h-1zM772 259h1v1h-1zM773 259h1v1h-1zM774 259h1v1h-1zM775 258h1v1h-1zM776 258h1v1h-1zM777 257h1v1h-1zM778 257h1v1h-1zM779 256h1v1h-1zM780 256h1v1h-1zM781 255h1v1h-1zM782 255h1v1h-1zM783 254h1v1h-1zM784 254h1v1h-1zM785 254h1v1h-1zM786 253h1v1h-1zM787 253h1v1h-1zM788 252h1v1h-1zM789 252h1v1h-1zM790 251h1v1h-1zM791 251h1v1h-1zM792 250h1v1h-1zM793 250h1v1h-1zM794 249h1v1h-1zM795 249h1v1h-1zM796 248h1v1h-1zM797 248h1v1h-1zM798 247h1v1h-1zM799 246h1v1h-1zM800 246h1v1h-1zM801 246h1v1h-1zM802 245h1v1h-1zM803 244h1v1h-1zM804 244h1v1h-1zM805 243h1v1h-1zM806 243h1v1h-1zM807 242h1v1h-1zM808 242h1v1h-1zM809 241h1v1h-1zM810 241h1v1h-1zM811 240h1v1h-1zM812 240h1v1h-1zM813 239h1v1h-1zM814 239h1v1h-1zM815 238h1v1h-1zM816 238h1v1h-1zM817 237h1v1h-1zM818 237h1v1h-1zM819 236h1v1h-1zM820 236h1v1h-1zM821 235h1v1h-1zM822 235h1v1h-1zM823 234h1v1h-1zM824 234h1v1h-1zM825 233h1v1h-1zM826 233h1v1h-1zM827 232h1v1h-1zM828 232h1v1h-1zM829 231h1v1h-1zM830 230h1v1h-1zM831 230h1v1h-1zM832 229h1v1h-1zM833 229h1v1h-1zM834 228h1v1h-1zM835 227h1v1h-1zM836 227h1v1h-1zM837 226h1v1h-1zM838 226h1v1h-1zM839 225h1v1h-1zM840 225h1v1h-1zM841 224h1v1h-1zM842 223h1v1h-1zM843 223h1v1h-1zM844 222h1v1h-1zM845 222h1v1h-1zM846 221h1v1h-1zM847 220h1v1h-1zM848 220h1v1h-1zM849 219h1v1h-1zM850 219h1v1h-1zM851 218h1v1h-1zM852 217h1v1h-1zM853 217h1v1h-1zM854 216h1v1h-1zM855 216h1v1h-1zM856 215h1v1h-1zM857 215h1v1h-1zM858 214h1v1h-1zM859 213h1v1h-1zM860 213h1v1h-1zM861 212h1v1h-1zM862 212h1v1h-1zM863 211h1v1h-1zM864 211h1v1h-1zM865 210h1v1h-1zM866 210h1v1h-1zM867 210h1v1h-1zM868 209h1v1h-1zM869 209h1v1h-1zM870 208h1v1h-1zM871 208h1v1h-1zM872 207h1v1h-1zM873 207h1v1h-1zM874 206h1v1h-1zM875 206h1v1h-1zM876 206h1v1h-1zM877 205h1v1h-1zM878 205h1v1h-1zM879 204h1v1h-1zM880 204h1v1h-1zM881 203h1v1h-1zM882 203h1v1h-1zM883 203h1v1h-1zM884 202h1v1h-1zM885 202h1v1h-1zM886 201h1v1h-1zM887 201h1v1h-1zM888 201h1v1h-1zM889 200h1v1h-1zM890 200h1v1h-1zM891 199h1v1h-1zM892 199h1v1h-1zM893 199h1v1h-1zM894 198h1v1h-1zM895 198h1v1h-1zM896 197h1v1h-1zM897 197h1v1h-1zM898 196h1v1h-1zM899 196h1v1h-1zM900 196h1v1h-1zM901 195h1v1h-1zM902 195h1v1h-1zM903 194h1v1h-1zM904 194h1v1h-1zM905 193h1v1h-1zM906 193h1v1h-1zM907 192h1v1h-1zM908 192h1v1h-1zM909 191h1v1h-1zM910 191h1v1h-1zM911 191h1v1h-1zM912 190h1v1h-1zM913 190h1v1h-1zM914 189h1v1h-1zM915 189h1v1h-1zM916 188h1v1h-1zM917 188h1v1h-1zM918 187h1v1h-1zM919 187h1v1h-1zM920 186h1v1h-1zM921 186h1v1h-1zM922 186h1v1h-1zM923 185h1v1h-1zM924 185h1v1h-1zM925 184h1v1h-1zM926 184h1v1h-1zM927 183h1v1h-1zM928 183h1v1h-1zM929 182h1v1h-1zM930 182h1v1h-1zM931 181h1v1h-1zM932 181h1v1h-1zM933 180h1v1h-1zM934 180h1v1h-1zM935 179h1v1h-1zM936 179h1v1h-1zM937 178h1v1h-1zM938 177h1v1h-1zM939 177h1v1h-1zM940 176h1v1h-1zM941 176h1v1h-1zM942 175h1v1h-1zM943 175h1v1h-1zM944 174h1v1h-1zM945 173h1v1h-1zM946 173h1v1h-1zM947 172h1v1h-1zM948 172h1v1h-1zM949 171h1v1h-1zM950 171h1v1h-1zM951 170h1v1h-1zM952 170h1v1h-1zM953 169h1v1h-1zM954 169h1v1h-1zM955 168h1v1h-1zM956 168h1v1h-1zM957 167h1v1h-1zM958 167h1v1h-1zM959 166h1v1h-1zM960 166h1v1h-1zM961 166h1v1h-1zM962 165h1v1h-1zM963 165h1v1h-1zM964 164h1v1h-1zM965 164h1v1h-1zM966 163h1v1h-1zM967 163h1v1h-1zM968 163h1v1h-1zM969 162h1v1h-1zM970 162h1v1h-1zM971 161h1v1h-1zM972 161h1v1h-1zM973 161h1v1h-1zM974 160h1v1h-1zM975 160h1v1h-1zM976 159h1v1h-1zM977 159h1v1h-1zM978 159h1v1h-1zM979 158h1v1h-1zM980 158h1v1h-1zM981 158h1v1h-1zM982 157h1v1h-1zM983 157h1v1h-1zM984 157h1v1h-1zM985 156h1v1h-1zM986 156h1v1h-1zM987 155h1v1h-1zM988 155h1v1h-1zM989 155h1v1h-1zM990 154h1v1h-1zM991 154h1v1h-1zM992 154h1v1h-1zM993 153h1v1h-1zM994 153h1v1h-1zM995 152h1v1h-1zM996 152h1v1h-1zM997 152h1v1h-1zM998 151h1v1h-1zM999 151h1v1h-1zM1000 151h1v1h-1zM1001 150h1v1h-1zM1002 150h1v1h-1zM1003 149h1v1h-1zM1004 149h1v1h-1zM1005 149h1v1h-1zM1006 148h1v1h-1zM1007 148h1v1h-1zM1008 147h1v1h-1zM1009 147h1v1h-1zM1010 147h1v1h-1zM1011 146h1v1h-1zM1012 146h1v1h-1zM1013 145h1v1h-1zM1014 145h1v1h-1zM1015 145h1v1h-1zM1016 144h1v1h-1zM1017 144h1v1h-1zM1018 143h1v1h-1zM1019 143h1v1h-1zM1020 143h1v1h-1zM1021 142h1v1h-1zM1022 142h1v1h-1zM1023 141h1v1h-1zM1024 141h1v1h-1zM1025 141h1v1h-1zM1026 140h1v1h-1zM1027 140h1v1h-1zM1028 140h1v1h-1zM1029 139h1v1h-1zM1030 139h1v1h-1zM1031 139h1v1h-1zM1032 138h1v1h-1zM1033 138h1v1h-1zM1034 138h1v1h-1zM1035 137h1v1h-1zM1036 137h1v1h-1zM1037 137h1v1h-1zM1038 136h1v1h-1zM1039 136h1v1h-1zM1040 136h1v1h-1zM1041 136h1v1h-1zM1042 135h1v1h-1zM1043 135h1v1h-1zM1044 135h1v1h-1zM1045 135h1v1h-1zM1046 134h1v1h-1zM1047 134h1v1h-1zM1048 134h1v1h-1zM1049 134h1v1h-1zM1050 134h1v1h-1zM1051 133h1v1h-1zM1052 133h1v1h-1zM1053 133h1v1h-1zM1054 133h1v1h-1zM1055 133h1v1h-1zM1056 133h1v1h-1zM1057 133h1v1h-1zM1058 133h1v1h-1zM1059 133h1v1h-1zM1060 133h1v1h-1zM1061 133h1v1h-1zM1062 133h1v1h-1zM1063 133h1v1h-1zM1064 133h1v1h-1zM1065 133h1v1h-1zM1066 133h1v1h-1zM1067 133h1v1h-1zM1068 133h1v1h-1zM1069 133h1v1h-1zM1070 133h1v1h-1zM1071 133h1v1h-1zM1072 133h1v1h-1zM1073 133h1v1h-1zM1074 133h1v1h-1zM1075 133h1v1h-1zM1076 133h1v1h-1zM1077 133h1v1h-1zM1078 133h1v1h-1zM1079 133h1v1h-1zM1080 133h1v1h-1zM1081 133h1v1h-1zM1082 133h1v1h-1zM1083 133h1v1h-1zM1084 133h1v1h-1zM1085 133h1v1h-1zM1086 133h1v1h-1zM1087 134h1v1h-1zM1088 134h1v1h-1zM1089 134h1v1h-1zM1090 134h1v1h-1zM1091 134h1v1h-1zM1092 134h1v1h-1zM1093 135h1v1h-1zM1094 135h1v1h-1zM1095 135h1v1h-1zM1096 135h1v1h-1zM1097 136h1v1h-1zM1098 136h1v1h-1zM1099 136h1v1h-1zM1100 136h1v1h-1zM1101 136h1v1h-1zM1102 136h1v1h-1zM1103 136h1v1h-1zM1104 136h1v1h-1zM1105 136h1v1h-1zM1106 136h1v1h-1z"/>
<path fill="#FF0000" shape-rendering="crispEdges" d="M0 345h1v1h-1zM1 345h1v1h-1zM2 344h1v1h-1zM3 344h1v1h-1zM4 344h1v1h-1zM5 344h1v1h-1zM6 343h1v1h-1zM7 343h1v1h-1zM8 343h1v1h-1zM9 343h1v1h-1zM10 342h1v1h-1zM11 342h1v1h-1zM12 342h1v1h-1zM13 342h1v1h-1zM14 341h1v1h-1zM15 341h1v1h-1zM16 341h1v1h-1zM17 341h1v1h-1zM18 340h1v1h-1zM19 340h1v1h-1zM20 340h1v1h-1zM21 340h1v1h-1zM22 340h1v1h-1zM23 339h1v1h-1zM24 339h1v1h-1zM25 339h1v1h-1zM26 339h1v1h-1zM27 339h1v1h-1zM28 339h1v1h-1zM29 338h1v1h-1zM30 338h1v1h-1zM31 338h1v1h-1zM32 338h1v1h-1zM33 338h1v1h-1zM34 337h1v1h-1zM35 337h1v1h-1zM36 337h1v1h-1zM37 336h1v1h-1zM38 336h1v1h-1zM39 335h1v1h-1zM40 335h1v1h-1zM41 334h1v1h-1zM42 333h1v1h-1zM43 333h1v1h-1zM44 332h1v1h-1zM45 331h1v1h-1zM46 330h1v1h-1zM47 329h1v1h-1zM48 328h1v1h-1zM49 327h1v1h-1zM50 326h1v1h-1zM51 325h1v1h-1zM52 324h1v1h-1zM53 323h1v1h-1zM54 322h1v1h-1zM55 321h1v1h-1zM56 320h1v1h-1zM57 319h1v1h-1zM58 319h1v1h-1zM59 318h1v1h-1zM60 317h1v1h-1zM61 316h1v1h-1zM62 315h1v1h-1zM63 314h1v1h-1zM64 313h1v1h-1zM65 312h1v1h-1zM66 311h1v1h-1zM67 310h1v1h-1zM68 309h1v1h-1zM69 308h1v1h-1zM70 307h1v1h-1zM71 306h1v1h-1zM72 305h1v1h-1zM73 304h1v1h-1zM74 303h1v1h-1zM75 302h1v1h-1zM76 301h1v1h-1zM77 300h1v1h-1zM78 299h1v1h-1zM79 297h1v2h-1zM80 296h1v1h-1zM81 295h1v1h-1zM82 294h1v1h-1zM83 293h1v1h-1zM84 292h1v1h-1zM85 290h1v2h-1zM86 289h1v1h-1zM87 288h1v1h-1zM88 288h1v1h-1zM89 287h1v1h-1zM90 286h1v1h-1zM91 285h1v1h-1zM92 285h1v1h-1zM93 284h1v1h-1zM94 284h1v1h-1zM95 283h1v1h-1zM96 283h1v1h-1zM97 282h1v1h-1zM98 281h1v1h-1zM99 281h1v1h-1zM100 280h1v1h-1zM101 279h1v1h-1zM102 278h1v1h-1zM103 278h1v1h-1zM104 277h1v1h-1zM105 276h1v1h-1zM106 276h1v1h-1zM107 275h1v1h-1zM108 275h1v1h-1zM109 275h1v1h-1zM110 274h1v1h-1zM111 274h1v1h-1zM112 274h1v1h-1zM113 273h1v1h-1zM114 273h1v1h-1zM115 273h1v1h-1zM116 272h1v1h-1zM117 272h1v1h-1zM118 272h1v1h-1zM119 272h1v1h-1zM120 271h1v1h-1zM121 271h1v1h-1zM122 271h1v1h-1zM123 270h1v1h-1zM124 270h1v1h-1zM125 270h1v1h-1zM126 270h1v1h-1zM127 270h1v1h-1zM128 270h1v1h-1zM129 270h1v1h-1zM130 270h1v1h-1zM131 270h1v1h-1zM132 270h1v1h-1zM133 270h1v1h-1zM134 270h1v1h-1zM135 270h1v1h-1zM136 270h1v1h-1zM137 270h1v1h-1zM138 271h1v1h-1zM139 271h1v1h-1zM140 271h1v1h-1zM141 272h1v1h-1zM142 272h1v1h-1zM143 273h1v1h-1zM144 274h1v1h-1zM145 274h1v1h-1zM146 275h1v1h-1zM147 275h1v1h-1zM148 276h1v1h-1zM149 276h1v1h-1zM150 277h1v1h-1zM151 278h1v1h-1zM152 279h1v1h-1zM153 279h1v1h-1zM154 280h1v1h-1zM155 281h1v1h-1zM156 282h1v1h-1zM157 282h1v1h-1zM158 283h1v1h-1zM159 284h1v1h-1zM160 284h1v1h-1zM161 285h1v1h-1zM162 285h1v1h-1zM163 286h1v1h-1zM164 286h1v1h-1zM165 287h1v1h-1zM166 287h1v1h-1zM167 288h1v1h-1zM168 289h1v1h-1zM169 289h1v1h-1zM170 290h1v1h-1zM171 291h1v1h-1zM172 292h1v1h-1zM173 293h1v1h-1zM174 294h1v1h-1zM175 295h1v1h-1zM176 296h1v1h-1zM177 297h1v1h-1zM178 298h1v1h-1zM179 298h1v1h-1zM180 299h1v1h-1zM181 300h1v1h-1zM182 301h1v1h-1zM183 302h1v1h-1zM184 302h1v1h-1zM185 303h1v1h-1zM186 304h1v1h-1zM187 304h1v1h-1zM188 305h1v1h-1zM189 306h1v1h-1zM190 306h1v1h-1zM191 307h1v1h-1zM192 308h1v1h-1zM193 308h1v1h-1zM194 309h1v1h-1zM195 309h1v1h-1zM196 310h1v1h-1zM197 311h1v1h-1zM198 311h1v1h-1zM199 312h1v1h-1zM200 312h1v1h-1zM201 313h1v1h-1zM202 313h1v1h-1zM203 314h1v1h-1zM204 315h1v1h-1zM205 315h1v1h-1zM206 316h1v1h-1zM207 317h1v1h-1zM208 318h1v1h-1zM209 319h1v1h-1zM210 320h1v1h-1zM211 321h1v1h-1zM212 322h1v1h-1zM213 323h1v1h-1zM214 324h1v1h-1zM215 325h1v2h-1zM216 327h1v1h-1zM217 328h1v1h-1zM218 329h1v1h-1zM219 330h1v1h-1zM220 331h1v2h-1zM221 333h1v1h-1zM222 334h1v1h-1zM223 335h1v2h-1zM224 337h1v1h-1zM225 338h1v1h-1zM226 339h1v2h-1zM227 341h1v1h-1zM228 342h1v2h-1zM229 344h1v1h-1zM230 345h1v1h-1zM231 346h1v2h-1zM232 348h1v1h-1zM233 349h1v2h-1zM234 351h1v1h-1zM235 352h1v1h-1zM236 353h1v2h-1zM237 355h1v1h-1zM238 356h1v1h-1zM239 357h1v1h-1zM240 358h1v1h-1zM241 359h1v1h-1zM242 360h1v1h-1zM243 361h1v1h-1zM244 362h1v1h-1zM245 363h1v1h-1zM246 364h1v1h-1zM247 365h1v1h-1zM248 366h1v1h-1zM249 366h1v1h-1zM250 367h1v1h-1zM251 368h1v1h-1zM252 369h1v1h-1zM253 370h1v1h-1zM254 370h1v1h-1zM255 371h1v1h-1zM256 372h1v1h-1zM257 373h1v1h-1zM258 373h1v1h-1zM259 374h1v1h-1zM260 374h1v1h-1zM261 375h1v1h-1zM262 376h1v1h-1zM263 376h1v1h-1zM264 377h1v1h-1zM265 377h1v1h-1zM266 378h1v1h-1zM267 378h1v1h-1zM268 379h1v1h-1zM269 379h1v1h-1zM270 379h1v1h-1zM271 380h1v1h-1zM272 380h1v1h-1zM273 380h1v1h-1zM274 381h1v1h-1zM275 381h1v1h-1zM276 381h1v1h-1zM277 382h1v1h-1zM278 382h1v1h-1zM279 382h1v1h-1zM280 382h1v1h-1zM281 383h1v1h-1zM282 383h1v1h-1zM283 383h1v1h-1zM284 383h1v1h-1zM285 383h1v1h-1zM286 383h1v1h-1zM287 383h1v1h-1zM288 383h1v1h-1zM289 383h1v1h-1zM290 383h1v1h-1zM291 382h1v1h-1zM292 382h1v1h-1zM293 381h1v1h-1zM294 381h1v1h-1zM295 381h1v1h-1zM296 380h1v1h-1zM297 380h1v1h-1zM298 379h1v1h-1zM299 379h1v1h-1zM300 379h1v1h-1zM301 378h1v1h-1zM302 378h1v1h-1zM303 377h1v1h-1zM304 377h1v1h-1zM305 377h1v1h-1zM306 376h1v1h-1zM307 376h1v1h-1zM308 376h1v1h-1zM309 376h1v1h-1zM310 376h1v1h-1zM311 376h1v1h-1zM312 376h1v1h-1zM313 376h1v1h-1zM314 376h1v1h-1zM315 376h1v1h-1zM316 376h1v1h-1zM317 376h1v1h-1zM318 376h1v1h-1zM319 376h1v1h-1zM320 376h1v1h-1zM321 376h1v1h-1zM322 376h1v1h-1zM323 376h1v1h-1zM324 375h1v1h-1zM325 375h1v1h-1zM326 375h1v1h-1zM327 374h1v1h-1zM328 374h1v1h-1zM329 374h1v1h-1zM330 374h1v1h-1zM331 374h1v1h-1zM332 374h1v1h-1zM333 374h1v1h-1zM334 374h1v1h-1zM335 374h1v1h-1zM336 375h1v1h-1zM337 375h1v1h-1zM338 375h1v1h-1zM339 376h1v1h-1zM340 376h1v1h-1zM341 376h1v1h-1zM342 377h1v1h-1zM343 377h1v1h-1zM344 378h1v1h-1zM345 378h1v1h-1zM346 379h1v1h-1zM347 380h1v1h-1zM348 380h1v1h-1zM349 381h1v1h-1zM350 382h1v1h-1zM351 382h1v1h-1zM352 383h1v1h-1zM353 383h1v1h-1zM354 384h1v1h-1zM355 384h1v1h-1zM356 384h1v1h-1zM357 384h1v1h-1zM358 384h1v1h-1zM359 384h1v1h-1zM360 384h1v1h-1zM361 384h1v1h-1zM362 383h1v1h-1zM363 383h1v1h-1zM364 383h1v1h-1zM365 383h1v1h-1zM366 383h1v1h-1zM367 383h1v1h-1zM368 383h1v1h-1zM369 382h1v1h-1zM370 382h1v1h-1zM371 381h1v1h-1zM372 381h1v1h-1zM373 380h1v1h-1zM374 380h1v1h-1zM375 379h1v1h-1zM376 378h1v1h-1zM377 378h1v1h-1zM378 377h1v1h-1zM379 376h1v1h-1zM380 376h1v1h-1zM381 375h1v1h-1zM382 374h1v1h-1zM383 373h1v1h-1zM384 373h1v1h-1zM385 372h1v1h-1zM386 371h1v1h-1zM387 370h1v1h-1zM388 370h1v1h-1zM389 369h1v1h-1zM390 369h1v1h-1zM391 368h1v1h-1zM392 368h1v1h-1zM393 367h1v1h-1zM394 367h1v1h-1zM395 367h1v1h-1zM396 366h1v1h-1zM397 366h1v1h-1zM398 365h1v1h-1zM399 365h1v1h-1zM400 365h1v1h-1zM401 364h1v1h-1zM402 364h1v1h-1zM403 363h1v1h-1zM404 363h1v1h-1zM405 362h1v1h-1zM406 362h1v1h-1zM407 361h1v1h-1zM408 361h1v1h-1zM409 360h1v1h-1zM410 360h1v1h-1zM411 359h1v1h-1zM412 359h1v1h-1zM413 359h1v1h-1zM414 358h1v1h-1zM415 358h1v1h-1zM416 357h1v1h-1zM417 357h1v1h-1zM418 356h1v1h-1zM419 356h1v1h-1zM420 355h1v1h-1zM421 355h1v1h-1zM422 354h1v1h-1zM423 354h1v1h-1zM424 353h1v1h-1zM425 353h1v1h-1zM426 352h1v1h-1zM427 352h1v1h-1zM428 352h1v1h-1zM429 351h1v1h-1zM430 351h1v1h-1zM431 350h1v1h-1zM432 350h1v1h-1zM433 349h1v1h-1zM434 349h1v1h-1zM435 349h1v1h-1zM436 348h1v1h-1zM437 348h1v1h-1zM438 347h1v1h-1zM439 347h1v1h-1zM440 347h1v1h-1zM441 346h1v1h-1zM442 346h1v1h-1zM443 346h1v1h-1zM444 345h1v1h-1zM445 345h1v1h-1zM446 344h1v1h-1zM447 344h1v1h-1zM448 344h1v1h-1zM449 343h1v1h-1zM450 343h1v1h-1zM451 343h1v1h-1zM452 342h1v1h-1zM453 342h1v1h-1zM454 341h1v1h-1zM455 341h1v1h-1zM456 340h1v1h-1zM457 340h1v1h-1zM458 339h1v1h-1zM459 339h1v1h-1zM460 338h1v1h-1zM461 338h1v1h-1zM462 337h1v1h-1zM463 336h1v1h-1zM464 336h1v1h-1zM465 335h1v1h-1zM466 334h1v1h-1zM467 333h1v1h-1zM468 332h1v1h-1zM469 331h1v1h-1zM470 330h1v1h-1zM471 329h1v1h-1zM472 328h1v1h-1zM473 327h1v1h-1zM474 326h1v1h-1zM475 325h1v1h-1zM476 325h1v1h-1zM477 324h1v1h-1zM478 323h1v1h-1zM479 322h1v1h-1zM480 322h1v1h-1zM481 321h1v1h-1zM482 320h1v1h-1zM483 319h1v1h-1zM484 318h1v1h-1zM485 317h1v1h-1zM486 316h1v1h-1zM487 315h1v1h-1zM488 313h1v2h-1zM489 312h1v1h-1zM490 311h1v1h-1zM491 310h1v1h-1zM492 308h1v2h-1zM493 307h1v1h-1zM494 306h1v1h-1zM495 304h1v2h-1zM496 303h1v1h-1zM497 302h1v1h-1zM498 301h1v1h-1zM499 299h1v2h-1zM500 298h1v1h-1zM501 297h1v1h-1zM502 295h1v2h-1zM503 294h1v1h-1zM504 292h1v2h-1zM505 291h1v1h-1zM506 290h1v1h-1zM507 289h1v1h-1zM508 288h1v1h-1zM509 287h1v1h-1zM510 286h1v1h-1zM511 285h1v1h-1zM512 285h1v1h-1zM513 284h1v1h-1zM514 283h1v1h-1zM515 282h1v1h-1zM516 282h1v1h-1zM517 281h1v1h-1zM518 280h1v1h-1zM519 279h1v1h-1zM520 279h1v1h-1zM521 278h1v1h-1zM522 277h1v1h-1zM523 276h1v1h-1zM524 275h1v1h-1zM525 275h1v1h-1zM526 274h1v1h-1zM527 273h1v1h-1zM528 272h1v1h-1zM529 272h1v1h-1zM530 271h1v1h-1zM531 270h1v1h-1zM532 270h1v1h-1zM533 269h1v1h-1zM534 269h1v1h-1zM535 268h1v1h-1zM536 268h1v1h-1zM537 267h1v1h-1zM538 267h1v1h-1zM539 267h1v1h-1zM540 266h1v1h-1zM541 266h1v1h-1zM542 265h1v1h-1zM543 265h1v1h-1zM544 264h1v1h-1zM545 264h1v1h-1zM546 263h1v1h-1zM547 263h1v1h-1zM548 262h1v1h-1zM549 262h1v1h-1zM550 261h1v1h-1zM551 260h1v1h-1zM552 260h1v1h-1zM553 259h1v1h-1zM554 259h1v1h-1zM555 258h1v1h-1zM556 257h1v1h-1zM557 257h1v1h-1zM558 256h1v1h-1zM559 255h1v1h-1zM560 254h1v1h-1zM561 254h1v1h-1zM562 253h1v1h-1zM563 252h1v1h-1zM564 252h1v1h-1zM565 251h1v1h-1zM566 250h1v1h-1zM567 249h1v1h-1zM568 249h1v1h-1zM569 248h1v1h-1zM570 247h1v1h-1zM571 246h1v1h-1zM572 246h1v1h-1zM573 245h1v1h-1zM574 244h1v1h-1zM575 243h1v1h-1zM576 243h1v1h-1zM577 242h1v1h-1zM578 241h1v1h-1zM579 240h1v1h-1zM580 240h1v1h-1zM581 239h1v1h-1zM582 238h1v1h-1zM583 237h1v1h-1zM584 237h1v1h-1zM585 236h1v1h-1zM586 235h1v1h-1zM587 235h1v1h-1zM588 234h1v1h-1zM589 233h1v1h-1zM590 232h1v1h-1zM591 232h1v1h-1zM592 231h1v1h-1zM593 230h1v1h-1zM594 230h1v1h-1zM595 229h1v1h-1zM596 228h1v1h-1zM597 228h1v1h-1zM598 227h1v1h-1zM599 226h1v1h-1zM600 225h1v1h-1zM601 225h1v1h-1zM602 224h1v1h-1zM603 223h1v1h-1zM604 223h1v1h-1zM605 222h1v1h-1zM606 221h1v1h-1zM607 221h1v1h-1zM608 220h1v1h-1zM609 219h1v1h-1zM610 219h1v1h-1zM611 218h1v1h-1zM612 217h1v1h-1zM613 217h1v1h-1zM614 216h1v1h-1zM615 215h1v1h-1zM616 215h1v1h-1zM617 214h1v1h-1zM618 214h1v1h-1zM619 213h1v1h-1zM620 212h1v1h-1zM621 212h1v1h-1zM622 211h1v1h-1zM623 211h1v1h-1zM624 210h1v1h-1zM625 209h1v1h-1zM626 209h1v1h-1zM627 208h1v1h-1zM628 208h1v1h-1zM629 207h1v1h-1zM630 206h1v1h-1zM631 206h1v1h-1zM632 205h1v1h-1zM633 204h1v1h-1zM634 204h1v1h-1zM635 203h1v1h-1zM636 202h1v1h-1zM637 202h1v1h-1zM638 201h1v1h-1zM639 200h1v1h-1zM640 199h1v1h-1zM641 199h1v1h-1zM642 198h1v1h-1zM643 197h1v1h-1zM644 196h1v1h-1zM645 196h1v1h-1zM646 195h1v1h-1zM647 194h1v1h-1zM648 193h1v1h-1zM649 193h1v1h-1zM650 192h1v1h-1zM651 191h1v1h-1zM652 190h1v1h-1zM653 190h1v1h-1zM654 189h1v1h-1zM655 188h1v1h-1zM656 187h1v1h-1zM657 187h1v1h-1zM658 186h1v1h-1zM659 185h1v1h-1zM660 185h1v1h-1zM661 184h1v1h-1zM662 183h1v1h-1zM663 182h1v1h-1zM664 182h1v1h-1zM665 181h1v1h-1zM666 180h1v1h-1zM667 180h1v1h-1zM668 179h1v1h-1zM669 178h1v1h-1zM670 178h1v1h-1zM671 177h1v1h-1zM672 176h1v1h-1zM673 176h1v1h-1zM674 175h1v1h-1zM675 174h1v1h-1zM676 174h1v1h-1zM677 173h1v1h-1zM678 172h1v1h-1zM679 171h1v1h-1zM680 171h1v1h-1zM681 170h1v1h-1zM682 169h1v1h-1zM683 168h1v1h-1zM684 167h1v1h-1zM685 166h1v1h-1zM686 166h1v1h-1zM687 165h1v1h-1zM688 164h1v1h-1zM689 162h1v2h-1zM690 161h1v1h-1zM691 160h1v1h-1zM692 158h1v2h-1zM693 157h1v1h-1zM694 156h1v1h-1zM695 154h1v2h-1zM696 153h1v1h-1zM697 152h1v1h-1zM698 151h1v1h-1zM699 150h1v1h-1zM700 149h1v1h-1zM701 148h1v1h-1zM702 147h1v1h-1zM703 146h1v1h-1zM704 145h1v1h-1zM705 144h1v1h-1zM706 143h1v1h-1zM707 142h1v1h-1zM708 141h1v1h-1zM709 141h1v1h-1zM710 140h1v1h-1zM711 139h1v1h-1zM712 138h1v1h-1zM713 138h1v1h-1zM714 137h1v1h-1zM715 136h1v1h-1zM716 136h1v1h-1zM717 135h1v1h-1zM718 135h1v1h-1zM719 134h1v1h-1zM720 133h1v1h-1zM721 133h1v1h-1zM722 132h1v1h-1zM723 132h1v1h-1zM724 131h1v1h-1zM725 131h1v1h-1zM726 130h1v1h-1zM727 129h1v1h-1zM728 129h1v1h-1zM729 128h1v1h-1zM730 127h1v1h-1zM731 127h1v1h-1zM732 126h1v1h-1zM733 126h1v1h-1zM734 125h1v1h-1zM735 124h1v1h-1zM736 124h1v1h-1zM737 123h1v1h-1zM738 123h1v1h-1zM739 122h1v1h-1zM740 121h1v1h-1zM741 121h1v1h-1zM742 120h1v1h-1zM743 120h1v1h-1zM744 119h1v1h-1zM745 118h1v1h-1zM746 118h1v1h-1zM747 117h1v1h-1zM748 117h1v1h-1zM749 116h1v1h-1zM750 116h1v1h-1zM751 115h1v1h-1zM752 115h1v1h-1zM753 114h1v1h-1zM754 114h1v1h-1zM755 114h1v1h-1zM756 113h1v1h-1zM757 113h1v1h-1zM758 113h1v1h-1zM759 113h1v1h-1zM760 113h1v1h-1zM761 113h1v1h-1zM762 113h1v1h-1zM763 113h1v1h-1zM764 113h1v1h-1zM765 113h1v1h-1zM766 113h1v1h-1zM767 113h1v1h-1zM768 113h1v1h-1zM769 113h1v1h-1zM770 113h1v1h-1zM771 113h1v1h-1zM772 113h1v1h-1zM773 113h1v1h-1zM774 113h1v1h-1zM775 112h1v1h-1zM776 112h1v1h-1zM777 112h1v1h-1zM778 112h1v1h-1zM779 112h1v1h-1zM780 111h1v1h-1zM781 111h1v1h-1zM782 111h1v1h-1zM783 110h1v1h-1zM784 110h1v1h-1zM785 110h1v1h-1zM786 110h1v1h-1zM787 110h1v1h-1zM788 109h1v1h-1zM789 109h1v1h-1zM790 109h1v1h-1zM791 109h1v1h-1zM792 108h1v1h-1zM793 108h1v1h-1zM794 108h1v1h-1zM795 107h1v1h-1zM796 107h1v1h-1zM797 107h1v1h-1zM798 106h1v1h-1zM799 106h1v1h-1zM800 105h1v1h-1zM801 105h1v1h-1zM802 105h1v1h-1zM803 104h1v1h-1zM804 104h1v1h-1zM805 103h1v1h-1zM806 103h1v1h-1zM807 103h1v1h-1zM808 103h1v1h-1zM809 102h1v1h-1zM810 102h1v1h-1zM811 102h1v1h-1zM812 101h1v1h-1zM813 101h1v1h-1zM814 101h1v1h-1zM815 100h1v1h-1zM816 100h1v1h-1zM817 100h1v1h-1zM818 99h1v1h-1zM819 99h1v1h-1zM820 99h1v1h-1zM821 98h1v1h-1zM822 98h1v1h-1zM823 98h1v1h-1zM824 98h1v1h-1zM825 98h1v1h-1zM826 98h1v1h-1zM827 98h1v1h-1zM828 98h1v1h-1zM829 98h1v1h-1zM830 98h1v1h-1zM831 98h1v1h-1zM832 98h1v1h-1zM833 98h1v1h-1zM834 98h1v1h-1zM835 98h1v1h-1zM836 98h1v1h-1zM837 98h1v1h-1zM838 98h1v1h-1zM839 98h1v1h-1zM840 98h1v1h-1zM841 97h1v1h-1zM842 97h1v1h-1zM843 97h1v1h-1zM844 97h1v1h-1zM845 97h1v1h-1zM846 97h1v1h-1zM847 97h1v1h-1zM848 96h1v1h-1zM849 96h1v1h-1zM850 96h1v1h-1zM851 96h1v1h-1zM852 96h1v1h-1zM853 96h1v1h-1zM854 95h1v1h-1zM855 95h1v1h-1zM856 95h1v1h-1zM857 95h1v1h-1zM858 95h1v1h-1zM859 94h1v1h-1zM860 94h1v1h-1zM861 94h1v1h-1zM862 94h1v1h-1zM863 94h1v1h-1zM864 93h1v1h-1zM865 93h1v1h-1zM866 93h1v1h-1zM867 93h1v1h-1zM868 92h1v1h-1zM869 92h1v1h-1zM870 92h1v1h-1zM871 92h1v1h-1zM872 92h1v1h-1zM873 91h1v1h-1zM874 91h1v1h-1zM875 91h1v1h-1zM876 91h1v1h-1zM877 90h1v1h-1zM878 90h1v1h-1zM879 90h1v1h-1zM880 90h1v1h-1zM881 89h1v1h-1zM882 89h1v1h-1zM883 89h1v1h-1zM884 89h1v1h-1zM885 88h1v1h-1zM886 88h1v1h-1zM887 88h1v1h-1zM888 88h1v1h-1zM889 88h1v1h-1zM890 87h1v1h-1zM891 87h1v1h-1zM892 87h1v1h-1zM893 87h1v1h-1zM894 87h1v1h-1zM895 86h1v1h-1zM896 86h1v1h-1zM897 86h1v1h-1zM898 86h1v1h-1zM899 86h1v1h-1zM900 86h1v1h-1zM901 86h1v1h-1zM902 85h1v1h-1zM903 85h1v1h-1zM904 85h1v1h-1zM905 85h1v1h-1zM906 85h1v1h-1zM907 85h1v1h-1zM908 85h1v1h-1zM909 84h1v1h-1zM910 84h1v1h-1zM911 84h1v1h-1zM912 83h1v1h-1zM913 83h1v1h-1zM914 82h1v1h-1zM915 82h1v1h-1zM916 81h1v1h-1zM917 80h1v1h-1zM918 80h1v1h-1zM919 79h1v1h-1zM920 79h1v1h-1zM921 79h1v1h-1zM922 79h1v1h-1zM923 79h1v1h-1zM924 79h1v1h-1zM925 79h1v1h-1zM926 79h1v1h-1zM927 78h1v1h-1zM928 78h1v1h-1zM929 78h1v1h-1zM930 78h1v1h-1zM931 78h1v1h-1zM932 78h1v1h-1zM933 78h1v1h-1zM934 78h1v1h-1zM935 78h1v1h-1zM936 78h1v1h-1zM937 79h1v1h-1zM938 79h1v1h-1zM939 79h1v1h-1zM940 79h1v1h-1zM941 80h1v1h-1zM942 80h1v1h-1zM943 81h1v1h-1zM944 81h1v1h-1zM945 82h1v1h-1zM946 82h1v1h-1zM947 83h1v1h-1zM948 83h1v1h-1zM949 84h1v1h-1zM950 84h1v1h-1zM951 85h1v1h-1zM952 85h1v1h-1zM953 86h1v1h-1zM954 86h1v1h-1zM955 87h1v1h-1zM956 87h1v1h-1zM957 88h1v1h-1zM958 88h1v1h-1zM959 89h1v1h-1zM960 89h1v1h-1zM961 90h1v1h-1zM962 90h1v1h-1zM963 91h1v1h-1zM964 91h1v1h-1zM965 91h1v1h-1zM966 92h1v1h-1zM967 92h1v1h-1zM968 93h1v1h-1zM969 93h1v1h-1zM970 93h1v1h-1zM971 94h1v1h-1zM972 94h1v1h-1zM973 95h1v1h-1zM974 95h1v1h-1zM975 95h1v1h-1zM976 95h1v1h-1zM977 96h1v1h-1zM978 96h1v1h-1zM979 96h1v1h-1zM980 96h1v1h-1zM981 96h1v1h-1zM982 96h1v1h-1zM983 96h1v1h-1zM984 96h1v1h-1zM985 96h1v1h-1zM986 96h1v1h-1zM987 96h1v1h-1zM988 95h1v1h-1zM989 95h1v1h-1zM990 95h1v1h-1zM991 95h1v1h-1zM992 95h1v1h-1zM993 95h1v1h-1zM994 95h1v1h-1zM995 95h1v1h-1zM996 95h1v1h-1zM997 95h1v1h-1zM998 95h1v1h-1zM999 95h1v1h-1zM1000 95h1v1h-1zM1001 95h1v1h-1zM1002 95h1v1h-1zM1003 96h1v1h-1zM1004 96h1v1h-1zM1005 96h1v1h-1zM1006 96h1v1h-1zM1007 97h1v1h-1zM1008 97h1v1h-1zM1009 97h1v1h-1zM1010 98h1v1h-1zM1011 98h1v1h-1zM1012 98h1v1h-1zM1013 99h1v1h-1zM1014 99h1v1h-1zM1015 99h1v1h-1zM1016 99h1v1h-1zM1017 100h1v1h-1zM1018 100h1v1h-1zM1019 100h1v1h-1zM1020 100h1v1h-1zM1021 101h1v1h-1zM1022 101h1v1h-1zM1023 101h1v1h-1zM1024 101h1v1h-1zM1025 101h1v1h-1zM1026 102h1v1h-1zM1027 102h1v1h-1zM1028 102h1v1h-1zM1029 102h1v1h-1zM1030 102h1v1h-1zM1031 102h1v1h-1zM1032 102h1v1h-1zM1033 102h1v1h-1zM1034 102h1v1h-1zM1035 102h1v1h-1zM1036 103h1v1h-1zM1037 103h1v1h-1zM1038 103h1v1h-1zM1039 103h1v1h-1zM1040 103h1v1h-1zM1041 103h1v1h-1zM1042 104h1v1h-1zM1043 104h1v1h-1zM1044 104h1v1h-1zM1045 104h1v1h-1zM1046 105h1v1h-1zM1047 105h1v1h-1zM1048 105h1v1h-1zM1049 105h1v1h-1zM1050 106h1v1h-1zM1051 106h1v1h-1zM1052 107h1v1h-1zM1053 107h1v1h-1zM1054 108h1v1h-1zM1055 108h1v1h-1zM1056 109h1v1h-1zM1057 109h1v1h-1zM1058 110h1v1h-1zM1059 111h1v1h-1zM1060 112h1v1h-1zM1061 113h1v1h-1zM1062 114h1v1h-1zM1063 115h1v2h-1zM1064 117h1v2h-1zM1065 119h1v2h-1zM1066 121h1v1h-1zM1067 122h1v1h-1zM1068 123h1v2h-1zM1069 125h1v1h-1zM1070 126h1v2h-1zM1071 128h1v1h-1zM1072 129h1v1h-1zM1073 130h1v2h-1zM1074 132h1v1h-1zM1075 133h1v2h-1zM1076 135h1v1h-1zM1077 136h1v1h-1zM1078 137h1v1h-1zM1079 137h1v1h-1zM1080 138h1v1h-1zM1081 139h1v1h-1zM1082 140h1v1h-1zM1083 140h1v1h-1zM1084 141h1v1h-1zM1085 142h1v1h-1zM1086 143h1v1h-1zM1087 144h1v1h-1zM1088 145h1v1h-1zM1089 146h1v1h-1zM1090 147h1v1h-1zM1091 148h1v1h-1zM1092 149h1v2h-1zM1093 151h1v1h-1zM1094 152h1v2h-1zM1095 154h1v1h-1zM1096 155h1v1h-1zM1097 156h1v1h-1zM1098 156h1v1h-1zM1099 157h1v1h-1zM1100 158h1v1h-1zM1101 159h1v1h-1zM1102 160h1v1h-1zM1103 161h1v1h-1zM1104 162h1v1h-1zM1105 163h1v1h-1zM1106 164h1v1h-1z"/>
<path fill="#800090" shape-rendering="crispEdges" d="M0 340h1v1h-1zM1 339h1v1h-1zM2 337h1v2h-1zM3 336h1v1h-1zM4 334h1v2h-1zM5 333h1v1h-1zM6 332h1v1h-1zM7 330h1v2h-1zM8 329h1v1h-1zM9 328h1v1h-1zM10 326h1v2h-1zM11 325h1v1h-1zM12 324h1v1h-1zM13 322h1v2h-1zM14 321h1v1h-1zM15 320h1v1h-1zM16 319h1v1h-1zM17 317h1v2h-1zM18 316h1v1h-1zM19 315h1v1h-1zM20 314h1v1h-1zM21 313h1v1h-1zM22 312h1v1h-1zM23 310h1v2h-1zM24 309h1v1h-1zM25 308h1v1h-1zM26 307h1v1h-1zM27 306h1v1h-1zM28 305h1v1h-1zM29 304h1v1h-1zM30 303h1v1h-1zM31 302h1v1h-1zM32 301h1v1h-1zM33 300h1v1h-1zM34 299h1v1h-1zM35 298h1v1h-1zM36 297h1v1h-1zM37 296h1v1h-1zM38 295h1v1h-1zM39 294h1v1h-1zM40 293h1v1h-1zM41 292h1v1h-1zM42 290h1v2h-1zM43 289h1v1h-1zM44 287h1v2h-1zM45 286h1v1h-1zM46 284h1v2h-1zM47 283h1v1h-1zM48 282h1v1h-1zM49 281h1v1h-1zM50 280h1v1h-1zM51 279h1v1h-1zM52 279h1v1h-1zM53 278h1v1h-1zM54 277h1v1h-1zM55 276h1v1h-1zM56 276h1v1h-1zM57 275h1v1h-1zM58 274h1v1h-1zM59 273h1v1h-1zM60 271h1v2h-1zM61 270h1v1h-1zM62 269h1v1h-1zM63 267h1v2h-1zM64 266h1v1h-1zM65 265h1v1h-1zM66 264h1v1h-1zM67 263h1v1h-1zM68 262h1v1h-1zM69 262h1v1h-1zM70 261h1v1h-1zM71 260h1v1h-1zM72 260h1v1h-1zM73 259h1v1h-1zM74 259h1v1h-1zM75 258h1v1h-1zM76 257h1v1h-1zM77 256h1v1h-1zM78 256h1v1h-1zM79 255h1v1h-1zM80 254h1v1h-1zM81 253h1v1h-1zM82 252h1v1h-1zM83 251h1v1h-1zM84 250h1v1h-1zM85 249h1v1h-1zM86 248h1v1h-1zM87 248h1v1h-1zM88 247h1v1h-1zM89 247h1v1h-1zM90 246h1v1h-1zM91 246h1v1h-1zM92 246h1v1h-1zM93 246h1v1h-1zM94 245h1v1h-1zM95 245h1v1h-1zM96 245h1v1h-1zM97 244h1v1h-1zM98 244h1v1h-1zM99 243h1v1h-1zM100 243h1v1h-1zM101 242h1v1h-1zM102 242h1v1h-1zM103 242h1v1h-1zM104 242h1v1h-1zM105 242h1v1h-1zM106 242h1v1h-1zM107 242h1v1h-1zM108 243h1v1h-1zM109 243h1v1h-1zM110 244h1v2h-1zM111 246h1v2h-1zM112 248h1v1h-1zM113 249h1v2h-1zM114 250h1v1h-1zM115 251h1v1h-1zM116 251h1v1h-1zM117 251h1v1h-1zM118 252h1v1h-1zM119 252h1v1h-1zM120 252h1v1h-1zM121 253h1v1h-1zM122 254h1v1h-1zM123 254h1v1h-1zM124 255h1v1h-1zM125 256h1v1h-1zM126 257h1v2h-1zM127 259h1v1h-1zM128 260h1v1h-1zM129 261h1v1h-1zM130 262h1v1h-1zM131 263h1v2h-1zM132 265h1v1h-1zM133 266h1v1h-1zM134 267h1v2h-1zM135 269h1v1h-1zM136 270h1v2h-1zM137 272h1v2h-1zM138 274h1v2h-1zM139 276h1v2h-1zM140 278h1v2h-1zM141 280h1v2h-1zM142 282h1v2h-1zM143 284h1v3h-1zM144 287h1v3h-1zM145 290h1v2h-1zM146 292h1v3h-1zM147 295h1v3h-1zM148 298h1v3h-1zM149 301h1v2h-1zM150 303h1v2h-1zM151 305h1v2h-1zM152 307h1v2h-1zM153 309h1v2h-1zM154 311h1v2h-1zM155 313h1v2h-1zM156 315h1v2h-1zM157 317h1v2h-1zM158 319h1v2h-1zM159 321h1v2h-1zM160 323h1v2h-1zM161 325h1v2h-1zM162 327h1v2h-1zM163 329h1v2h-1zM164 331h1v2h-1zM165 333h1v2h-1zM166 335h1v2h-1zM167 337h1v2h-1zM168 339h1v2h-1zM169 341h1v2h-1zM170 343h1v2h-1zM171 345h1v2h-1zM172 347h1v2h-1zM173 349h1v2h-1zM174 351h1v1h-1zM175 352h1v2h-1zM176 354h1v2h-1zM177 356h1v1h-1zM178 357h1v1h-1zM179 358h1v2h-1zM180 360h1v1h-1zM181 361h1v1h-1zM182 362h1v2h-1zM183 364h1v1h-1zM184 365h1v1h-1zM185 366h1v1h-1zM186 367h1v1h-1zM187 368h1v1h-1zM188 369h1v1h-1zM189 370h1v2h-1zM190 372h1v1h-1zM191 372h1v1h-1zM192 373h1v1h-1zM193 374h1v1h-1zM194 375h1v1h-1zM195 375h1v1h-1zM196 375h1v1h-1zM197 376h1v1h-1zM198 376h1v1h-1zM199 377h1v1h-1zM200 377h1v1h-1zM201 377h1v1h-1zM202 377h1v1h-1zM203 377h1v1h-1zM204 377h1v1h-1zM205 376h1v1h-1zM206 376h1v1h-1zM207 376h1v1h-1zM208 375h1v1h-1zM209 375h1v1h-1zM210 375h1v1h-1zM211 375h1v1h-1zM212 375h1v1h-1zM213 375h1v1h-1zM214 375h1v1h-1zM215 375h1v1h-1zM216 375h1v1h-1zM217 375h1v1h-1zM218 375h1v1h-1zM219 375h1v1h-1zM220 375h1v1h-1zM221 375h1v1h-1zM222 376h1v1h-1zM223 377h1v1h-1zM224 378h1v1h-1zM225 379h1v1h-1zM226 380h1v2h-1zM227 382h1v1h-1zM228 383h1v2h-1zM229 385h1v1h-1zM230 386h1v1h-1zM231 387h1v2h-1zM232 389h1v1h-1zM233 390h1v2h-1zM234 392h1v1h-1zM235 392h1v1h-1zM236 392h1v1h-1zM237 392h1v1h-1zM238 392h1v1h-1zM239 391h1v1h-1zM240 391h1v1h-1zM241 391h1v1h-1zM242 390h1v1h-1zM243 390h1v1h-1zM244 390h1v1h-1zM245 389h1v1h-1zM246 389h1v1h-1zM247 389h1v1h-1zM248 388h1v1h-1zM249 388h1v1h-1zM250 388h1v1h-1zM251 388h1v1h-1zM252 388h1v1h-1zM253 388h1v1h-1zM254 388h1v1h-1zM255 388h1v1h-1zM256 388h1v1h-1zM257 389h1v1h-1zM258 390h1v1h-1zM259 391h1v1h-1zM260 392h1v1h-1zM261 393h1v1h-1zM262 394h1v1h-1zM263 395h1v1h-1zM264 396h1v1h-1zM265 397h1v1h-1zM266 398h1v1h-1zM267 399h1v1h-1zM268 399h1v1h-1zM269 399h1v1h-1zM270 399h1v1h-1zM271 399h1v1h-1zM272 399h1v1h-1zM273 398h1v1h-1zM274 398h1v1h-1zM275 397h1v1h-1zM276 397h1v1h-1zM277 397h1v1h-1zM278 396h1v1h-1zM279 396h1v1h-1zM280 395h1v1h-1zM281 395h1v1h-1zM282 394h1v1h-1zM283 393h1v1h-1zM284 392h1v1h-1zM285 392h1v1h-1zM286 391h1v1h-1zM287 390h1v1h-1zM288 389h1v1h-1zM289 387h1v2h-1zM290 386h1v1h-1zM291 384h1v2h-1zM292 382h1v2h-1zM293 381h1v1h-1zM294 379h1v2h-1zM295 376h1v3h-1zM296 374h1v2h-1zM297 372h1v2h-1zM298 370h1v2h-1zM299 368h1v2h-1zM300 367h1v1h-1zM301 365h1v2h-1zM302 364h1v1h-1zM303 363h1v1h-1zM304 362h1v1h-1zM305 361h1v1h-1zM306 360h1v1h-1zM307 359h1v1h-1zM308 359h1v1h-1zM309 358h1v1h-1zM310 358h1v1h-1zM311 357h1v1h-1zM312 357h1v1h-1zM313 357h1v1h-1zM314 357h1v1h-1zM315 357h1v1h-1zM316 358h1v1h-1zM317 359h1v1h-1zM318 359h1v1h-1zM319 360h1v1h-1zM320 360h1v1h-1zM321 360h1v1h-1zM322 359h1v1h-1zM323 359h1v1h-1zM324 358h1v1h-1zM325 357h1v1h-1zM326 357h1v1h-1zM327 356h1v1h-1zM328 356h1v1h-1zM329 356h1v1h-1zM330 356h1v1h-1zM331 357h1v1h-1zM332 357h1v1h-1zM333 357h1v1h-1zM334 357h1v1h-1zM335 357h1v1h-1zM336 358h1v1h-1zM337 359h1v1h-1zM338 359h1v1h-1zM339 360h1v1h-1zM340 361h1v1h-1zM341 362h1v1h-1zM342 363h1v1h-1zM343 364h1v1h-1zM344 365h1v1h-1zM345 366h1v1h-1zM346 367h1v1h-1zM347 368h1v1h-1zM348 369h1v1h-1zM349 370h1v1h-1zM350 371h1v1h-1zM351 372h1v1h-1zM352 373h1v1h-1zM353 374h1v1h-1zM354 375h1v1h-1zM355 376h1v1h-1zM356 377h1v1h-1zM357 378h1v1h-1zM358 378h1v1h-1zM359 379h1v1h-1zM360 380h1v1h-1zM361 381h1v1h-1zM362 381h1v1h-1zM363 382h1v1h-1zM364 383h1v1h-1zM365 383h1v1h-1zM366 384h1v1h-1zM367 385h1v1h-1zM368 385h1v1h-1zM369 386h1v1h-1zM370 386h1v1h-1zM371 387h1v1h-1zM372 387h1v1h-1zM373 387h1v1h-1zM374 387h1v1h-1zM375 387h1v1h-1zM376 386h1v1h-1zM377 386h1v1h-1zM378 386h1v1h-1zM379 386h1v1h-1zM380 385h1v1h-1zM381 385h1v1h-1zM382 384h1v1h-1zM383 383h1v1h-1zM384 383h1v1h-1zM385 382h1v1h-1zM386 381h1v1h-1zM387 380h1v1h-1zM388 379h1v1h-1zM389 378h1v1h-1zM390 377h1v1h-1zM391 376h1v1h-1zM392 375h1v1h-1zM393 374h1v1h-1zM394 373h1v1h-1zM395 372h1v1h-1zM396 371h1v1h-1zM397 370h1v1h-1zM398 368h1v2h-1zM399 367h1v1h-1zM400 366h1v1h-1zM401 365h1v1h-1zM402 363h1v2h-1zM403 361h1v2h-1zM404 360h1v1h-1zM405 358h1v2h-1zM406 356h1v2h-1zM407 355h1v1h-1zM408 353h1v2h-1zM409 351h1v2h-1zM410 350h1v1h-1zM411 348h1v2h-1zM412 346h1v2h-1zM413 344h1v2h-1zM414 343h1v1h-1zM415 341h1v2h-1zM416 339h1v2h-1zM417 338h1v1h-1zM418 336h1v2h-1zM419 335h1v1h-1zM420 334h1v1h-1zM421 332h1v2h-1zM422 331h1v1h-1zM423 330h1v1h-1zM424 329h1v1h-1zM425 327h1v2h-1zM426 326h1v1h-1zM427 325h1v1h-1zM428 324h1v1h-1zM429 323h1v1h-1zM430 322h1v1h-1zM431 321h1v1h-1zM432 319h1v2h-1zM433 318h1v1h-1zM434 317h1v1h-1zM435 316h1v1h-1zM436 315h1v1h-1zM437 313h1v2h-1zM438 312h1v1h-1zM439 311h1v1h-1zM440 310h1v1h-1zM441 309h1v1h-1zM442 308h1v1h-1zM443 307h1v1h-1zM444 305h1v2h-1zM445 304h1v1h-1zM446 303h1v1h-1zM447 302h1v1h-1zM448 301h1v1h-1zM449 300h1v1h-1zM450 298h1v2h-1zM451 297h1v1h-1zM452 296h1v1h-1zM453 296h1v1h-1zM454 295h1v1h-1zM455 294h1v1h-1zM456 294h1v1h-1zM457 293h1v1h-1zM458 293h1v1h-1zM459 292h1v1h-1zM460 291h1v1h-1zM461 291h1v1h-1zM462 290h1v1h-1zM463 289h1v1h-1zM464 289h1v1h-1zM465 288h1v1h-1zM466 287h1v1h-1zM467 286h1v1h-1zM468 285h1v1h-1zM469 284h1v1h-1zM470 283h1v1h-1zM471 282h1v1h-1zM472 281h1v1h-1zM473 281h1v1h-1zM474 280h1v1h-1zM475 279h1v1h-1zM476 279h1v1h-1zM477 278h1v1h-1zM478 277h1v1h-1zM479 277h1v1h-1zM480 276h1v1h-1zM481 275h1v1h-1zM482 274h1v1h-1zM483 274h1v1h-1zM484 273h1v1h-1zM485 271h1v2h-1zM486 270h1v1h-1zM487 269h1v1h-1zM488 268h1v1h-1zM489 267h1v1h-1zM490 265h1v2h-1zM491 264h1v1h-1zM492 263h1v1h-1zM493 262h1v1h-1zM494 260h1v2h-1zM495 259h1v1h-1zM496 258h1v1h-1zM497 256h1v2h-1zM498 255h1v1h-1zM499 254h1v1h-1zM500 253h1v1h-1zM501 252h1v1h-1zM502 251h1v1h-1zM503 250h1v1h-1zM504 249h1v1h-1zM505 249h1v1h-1zM506 248h1v1h-1zM507 247h1v1h-1zM508 247h1v1h-1zM509 246h1v1h-1zM510 246h1v1h-1zM511 245h1v1h-1zM512 245h1v1h-1zM513 245h1v1h-1zM514 245h1v1h-1zM515 245h1v1h-1zM516 245h1v1h-1zM517 245h1v1h-1zM518 245h1v1h-1zM519 245h1v1h-1zM520 245h1v1h-1zM521 245h1v1h-1zM522 245h1v1h-1zM523 244h1v1h-1zM524 244h1v1h-1zM525 243h1v1h-1zM526 242h1v1h-1zM527 242h1v1h-1zM528 242h1v1h-1zM529 241h1v1h-1zM530 241h1v1h-1zM531 241h1v1h-1zM532 241h1v1h-1zM533 241h1v1h-1zM534 241h1v1h-1zM535 241h1v1h-1zM536 241h1v1h-1zM537 241h1v1h-1zM538 241h1v1h-1zM539 240h1v1h-1zM540 240h1v1h-1zM541 240h1v1h-1zM542 240h1v1h-1zM543 240h1v1h-1zM544 240h1v1h-1zM545 240h1v1h-1zM546 240h1v1h-1zM547 239h1v1h-1zM548 239h1v1h-1zM549 239h1v1h-1zM550 238h1v1h-1zM551 238h1v1h-1zM552 237h1v1h-1zM553 237h1v1h-1zM554 236h1v1h-1zM555 236h1v1h-1zM556 236h1v1h-1zM557 236h1v1h-1zM558 236h1v1h-1zM559 236h1v1h-1zM560 236h1v1h-1zM561 236h1v1h-1zM562 236h1v1h-1zM563 236h1v1h-1zM564 236h1v1h-1zM565 235h1v1h-1zM566 235h1v1h-1zM567 235h1v1h-1zM568 234h1v1h-1zM569 234h1v1h-1zM570 233h1v1h-1zM571 233h1v1h-1zM572 232h1v1h-1zM573 231h1v1h-1zM574 231h1v1h-1zM575 230h1v1h-1zM576 229h1v1h-1zM577 228h1v1h-1zM578 228h1v1h-1zM579 227h1v1h-1zM580 226h1v1h-1zM581 225h1v1h-1zM582 224h1v1h-1zM583 223h1v1h-1zM584 222h1v1h-1zM585 221h1v1h-1zM586 220h1v1h-1zM587 219h1v1h-1zM588 218h1v1h-1zM589 217h1v1h-1zM590 216h1v1h-1zM591 214h1v2h-1zM592 213h1v1h-1zM593 212h1v1h-1zM594 211h1v1h-1zM595 210h1v1h-1zM596 208h1v2h-1zM597 207h1v1h-1zM598 205h1v2h-1zM599 204h1v1h-1zM600 203h1v1h-1zM601 201h1v2h-1zM602 200h1v1h-1zM603 199h1v1h-1zM604 197h1v2h-1zM605 196h1v1h-1zM606 195h1v1h-1zM607 194h1v1h-1zM608 192h1v2h-1zM609 191h1v1h-1zM610 190h1v1h-1zM611 189h1v1h-1zM612 187h1v2h-1zM613 186h1v1h-1zM614 185h1v1h-1zM615 184h1v1h-1zM616 183h1v1h-1zM617 182h1v1h-1zM618 181h1v1h-1zM619 180h1v1h-1zM620 179h1v1h-1zM621 179h1v1h-1zM622 178h1v1h-1zM623 177h1v1h-1zM624 176h1v1h-1zM625 175h1v1h-1zM626 175h1v1h-1zM627 174h1v1h-1zM628 173h1v1h-1zM629 172h1v1h-1zM630 171h1v1h-1zM631 171h1v1h-1zM632 170h1v1h-1zM633 169h1v1h-1zM634 169h1v1h-1zM635 168h1v1h-1zM636 167h1v1h-1zM637 166h1v1h-1zM638 166h1v1h-1zM639 165h1v1h-1zM640 164h1v1h-1zM641 163h1v1h-1zM642 162h1v1h-1zM643 160h1v2h-1zM644 159h1v1h-1zM645 158h1v1h-1zM646 157h1v1h-1zM647 156h1v1h-1zM648 155h1v1h-1zM649 154h1v1h-1zM650 154h1v1h-1zM651 153h1v1h-1zM652 152h1v1h-1zM653 152h1v1h-1zM654 151h1v1h-1zM655 151h1v1h-1zM656 150h1v1h-1zM657 149h1v1h-1zM658 149h1v1h-1zM659 148h1v1h-1zM660 148h1v1h-1zM661 147h1v1h-1zM662 146h1v1h-1zM663 146h1v1h-1zM664 145h1v1h-1zM665 145h1v1h-1zM666 144h1v1h-1zM667 144h1v1h-1zM668 143h1v1h-1zM669 142h1v1h-1zM670 142h1v1h-1zM671 141h1v1h-1zM672 140h1v1h-1zM673 139h1v1h-1zM674 138h1v1h-1zM675 137h1v1h-1zM676 136h1v1h-1zM677 135h1v1h-1zM678 134h1v1h-1zM679 133h1v1h-1zM680 132h1v1h-1zM681 131h1v1h-1zM682 130h1v1h-1zM683 129h1v1h-1zM684 128h1v1h-1zM685 128h1v1h-1zM686 127h1v1h-1zM687 126h1v1h-1zM688 125h1v1h-1zM689 125h1v1h-1zM690 124h1v1h-1zM691 123h1v1h-1zM692 122h1v1h-1zM693 122h1v1h-1zM694 121h1v1h-1zM695 120h1v1h-1zM696 119h1v1h-1zM697 118h1v1h-1zM698 117h1v1h-1zM699 116h1v1h-1zM700 116h1v1h-1zM701 115h1v1h-1zM702 114h1v1h-1zM703 113h1v1h-1zM704 112h1v1h-1zM705 111h1v1h-1zM706 110h1v1h-1zM707 109h1v1h-1zM708 108h1v1h-1zM709 107h1v1h-1zM710 106h1v1h-1zM711 105h1v1h-1zM712 105h1v1h-1zM713 104h1v1h-1zM714 103h1v1h-1zM715 102h1v1h-1zM716 102h1v1h-1zM717 101h1v1h-1zM718 101h1v1h-1zM719 100h1v1h-1zM720 100h1v1h-1zM721 100h1v1h-1zM722 99h1v1h-1zM723 99h1v1h-1zM724 98h1v1h-1zM725 98h1v1h-1zM726 98h1v1h-1zM727 97h1v1h-1zM728 97h1v1h-1zM729 97h1v1h-1zM730 96h1v1h-1zM731 96h1v1h-1zM732 95h1v1h-1zM733 95h1v1h-1zM734 95h1v1h-1zM735 94h1v1h-1zM736 93h1v1h-1zM737 93h1v1h-1zM738 92h1v1h-1zM739 92h1v1h-1zM740 91h1v1h-1zM741 91h1v1h-1zM742 91h1v1h-1zM743 91h1v1h-1zM744 90h1v1h-1zM745 90h1v1h-1zM746 90h1v1h-1zM747 90h1v1h-1zM748 90h1v1h-1zM749 90h1v1h-1zM750 90h1v1h-1zM751 90h1v1h-1zM752 90h1v1h-1zM753 90h1v1h-1zM754 91h1v1h-1zM755 91h1v1h-1zM756 92h1v1h-1zM757 92h1v1h-1zM758 93h1v1h-1zM759 93h1v1h-1zM760 94h1v1h-1zM761 95h1v1h-1zM762 95h1v1h-1zM763 96h1v1h-1zM764 97h1v2h-1zM765 99h1v1h-1zM766 100h1v1h-1zM767 101h1v1h-1zM768 102h1v2h-1zM769 103h1v1h-1zM770 104h1v1h-1zM771 105h1v1h-1zM772 106h1v1h-1zM773 107h1v1h-1zM774 108h1v1h-1zM775 109h1v1h-1zM776 109h1v1h-1zM777 110h1v1h-1zM778 111h1v1h-1zM779 112h1v1h-1zM780 113h1v1h-1zM781 113h1v1h-1zM782 113h1v1h-1zM783 113h1v1h-1zM784 113h1v1h-1zM785 113h1v1h-1zM786 113h1v1h-1zM787 113h1v1h-1zM788 112h1v1h-1zM789 112h1v1h-1zM790 112h1v1h-1zM791 112h1v1h-1zM792 112h1v1h-1zM793 112h1v1h-1zM794 112h1v1h-1zM795 111h1v1h-1zM796 111h1v1h-1zM797 111h1v1h-1zM798 111h1v1h-1zM799 111h1v1h-1zM800 111h1v1h-1zM801 110h1v1h-1zM802 110h1v1h-1zM803 110h1v1h-1zM804 110h1v1h-1zM805 109h1v1h-1zM806 109h1v1h-1zM807 109h1v1h-1zM808 109h1v1h-1zM809 108h1v1h-1zM810 108h1v1h-1zM811 108h1v1h-1zM812 107h1v1h-1zM813 107h1v1h-1zM814 107h1v1h-1zM815 106h1v1h-1zM816 106h1v1h-1zM817 106h1v1h-1zM818 105h1v1h-1zM819 105h1v1h-1zM820 105h1v1h-1zM821 105h1v1h-1zM822 104h1v1h-1zM823 104h1v1h-1zM824 104h1v1h-1zM825 104h1v1h-1zM826 103h1v1h-1zM827 103h1v1h-1zM828 102h1v1h-1zM829 101h1v1h-1zM830 100h1v1h-1zM831 99h1v1h-1zM832 98h1v1h-1zM833 97h1v1h-1zM834 96h1v1h-1zM835 95h1v1h-1zM836 95h1v1h-1zM837 94h1v1h-1zM838 93h1v1h-1zM839 93h1v1h-1zM840 92h1v1h-1zM841 91h1v1h-1zM842 91h1v1h-1zM843 90h1v1h-1zM844 89h1v1h-1zM845 89h1v1h-1zM846 88h1v1h-1zM847 87h1v1h-1zM848 87h1v1h-1zM849 86h1v1h-1zM850 85h1v1h-1zM851 85h1v1h-1zM852 84h1v1h-1zM853 83h1v1h-1zM854 82h1v1h-1zM855 81h1v1h-1zM856 80h1v1h-1zM857 79h1v1h-1zM858 78h1v1h-1zM859 78h1v1h-1zM860 77h1v1h-1zM861 76h1v1h-1zM862 76h1v1h-1zM863 76h1v1h-1zM864 75h1v1h-1zM865 75h1v1h-1zM866 75h1v1h-1zM867 74h1v1h-1zM868 74h1v1h-1zM869 74h1v1h-1zM870 74h1v1h-1zM871 73h1v1h-1zM872 73h1v1h-1zM873 73h1v1h-1zM874 72h1v1h-1zM875 72h1v1h-1zM876 72h1v1h-1zM877 72h1v1h-1zM878 71h1v1h-1zM879 71h1v1h-1zM880 71h1v1h-1zM881 70h1v1h-1zM882 70h1v1h-1zM883 70h1v1h-1zM884 69h1v1h-1zM885 69h1v1h-1zM886 69h1v1h-1zM887 68h1v1h-1zM888 68h1v1h-1zM889 68h1v1h-1zM890 67h1v1h-1zM891 67h1v1h-1zM892 66h1v1h-1zM893 66h1v1h-1zM894 65h1v1h-1zM895 65h1v1h-1zM896 64h1v1h-1zM897 64h1v1h-1zM898 63h1v1h-1zM899 63h1v1h-1zM900 62h1v1h-1zM901 62h1v1h-1zM902 62h1v1h-1zM903 62h1v1h-1zM904 62h1v1h-1zM905 62h1v1h-1zM906 62h1v1h-1zM907 62h1v1h-1zM908 63h1v1h-1zM909 63h1v1h-1zM910 63h1v1h-1zM911 64h1v1h-1zM912 64h1v1h-1zM913 64h1v1h-1zM914 65h1v1h-1zM915 65h1v1h-1zM916 65h1v1h-1zM917 66h1v1h-1zM918 66h1v1h-1zM919 66h1v1h-1zM920 67h1v1h-1zM921 67h1v1h-1zM922 68h1v1h-1zM923 68h1v1h-1zM924 69h1v1h-1zM925 70h1v2h-1zM926 72h1v1h-1zM927 73h1v1h-1zM928 74h1v2h-1zM929 76h1v1h-1zM930 77h1v1h-1zM931 78h1v1h-1zM932 79h1v1h-1zM933 79h1v1h-1zM934 80h1v1h-1zM935 81h1v1h-1zM936 82h1v1h-1zM937 83h1v1h-1zM938 84h1v1h-1zM939 85h1v1h-1zM940 86h1v1h-1zM941 87h1v1h-1zM942 88h1v1h-1zM943 89h1v1h-1zM944 90h1v1h-1zM945 91h1v2h-1zM946 93h1v1h-1zM947 94h1v1h-1zM948 95h1v2h-1zM949 97h1v1h-1zM950 98h1v1h-1zM951 99h1v2h-1zM952 101h1v1h-1zM953 102h1v1h-1zM954 103h1v1h-1zM955 104h1v2h-1zM956 106h1v1h-1zM957 107h1v1h-1zM958 108h1v1h-1zM959 109h1v1h-1zM960 110h1v2h-1zM961 112h1v1h-1zM962 113h1v1h-1zM963 114h1v1h-1zM964 115h1v1h-1zM965 116h1v1h-1zM966 117h1v1h-1zM967 118h1v1h-1zM968 119h1v1h-1zM969 120h1v1h-1zM970 120h1v1h-1zM971 121h1v1h-1zM972 122h1v1h-1zM973 123h1v1h-1zM974 124h1v1h-1zM975 125h1v1h-1zM976 125h1v1h-1zM977 126h1v1h-1zM978 127h1v1h-1zM979 128h1v1h-1zM980 128h1v1h-1zM981 129h1v1h-1zM982 129h1v1h-1zM983 130h1v1h-1zM984 130h1v1h-1zM985 131h1v1h-1zM986 131h1v1h-1zM987 131h1v1h-1zM988 131h1v1h-1zM989 131h1v1h-1zM990 131h1v1h-1zM991 131h1v1h-1zM992 130h1v1h-1zM993 130h1v1h-1zM994 129h1v1h-1zM995 128h1v1h-1zM996 128h1v1h-1zM997 127h1v1h-1zM998 126h1v1h-1zM999 125h1v1h-1zM1000 124h1v1h-1zM1001 123h1v1h-1zM1002 122h1v1h-1zM1003 121h1v1h-1zM1004 120h1v1h-1zM1005 119h1v1h-1zM1006 118h1v1h-1zM1007 117h1v1h-1zM1008 117h1v1h-1zM1009 116h1v1h-1zM1010 115h1v1h-1zM1011 115h1v1h-1zM1012 114h1v1h-1zM1013 113h1v1h-1zM1014 113h1v1h-1zM1015 112h1v1h-1zM1016 112h1v1h-1zM1017 111h1v1h-1zM1018 110h1v1h-1zM1019 109h1v1h-1zM1020 108h1v1h-1zM1021 107h1v1h-1zM1022 106h1v1h-1zM1023 105h1v1h-1zM1024 104h1v1h-1zM1025 103h1v1h-1zM1026 101h1v2h-1zM1027 100h1v1h-1zM1028 99h1v1h-1zM1029 98h1v1h-1zM1030 97h1v1h-1zM1031 96h1v1h-1zM1032 95h1v1h-1zM1033 94h1v1h-1zM1034 93h1v1h-1zM1035 92h1v1h-1zM1036 91h1v1h-1zM1037 90h1v1h-1zM1038 89h1v1h-1zM1039 89h1v1h-1zM1040 88h1v1h-1zM1041 88h1v1h-1zM1042 87h1v1h-1zM1043 87h1v1h-1zM1044 87h1v1h-1zM1045 87h1v1h-1zM1046 87h1v1h-1zM1047 87h1v1h-1zM1048 87h1v1h-1zM1049 87h1v1h-1zM1050 87h1v1h-1zM1051 88h1v1h-1zM1052 89h1v1h-1zM1053 90h1v1h-1zM1054 91h1v2h-1zM1055 93h1v1h-1zM1056 94h1v2h-1zM1057 96h1v3h-1zM1058 99h1v2h-1zM1059 101h1v3h-1zM1060 104h1v3h-1zM1061 107h1v3h-1zM1062 110h1v3h-1zM1063 113h1v3h-1zM1064 116h1v4h-1zM1065 120h1v3h-1zM1066 123h1v4h-1zM1067 127h1v4h-1zM1068 131h1v4h-1zM1069 135h1v4h-1zM1070 139h1v4h-1zM1071 143h1v3h-1zM1072 146h1v3h-1zM1073 149h1v3h-1zM1074 152h1v2h-1zM1075 154h1v3h-1zM1076 157h1v2h-1zM1077 159h1v2h-1zM1078 161h1v2h-1zM1079 163h1v2h-1zM1080 165h1v2h-1zM1081 167h1v2h-1zM1082 169h1v2h-1zM1083 171h1v2h-1zM1084 173h1v2h-1zM1085 175h1v2h-1zM1086 177h1v2h-1zM1087 179h1v3h-1zM1088 182h1v3h-1zM1089 185h1v4h-1zM1090 189h1v4h-1zM1091 193h1v4h-1zM1092 197h1v4h-1zM1093 201h1v4h-1zM1094 205h1v3h-1zM1095 208h1v4h-1zM1096 212h1v4h-1zM1097 216h1v3h-1zM1098 219h1v4h-1zM1099 223h1v3h-1zM1100 226h1v4h-1zM1101 230h1v4h-1zM1102 234h1v3h-1zM1103 237h1v3h-1zM1104 240h1v2h-1zM1105 242h1v2h-1zM1106 244h1v2h-1zM1107 246h1v3h-1z"/>
<g shape-rendering="crispEdges" fill="#3A40CA">
<rect x="1023" y="361" width="253" height="3"/>
<rect x="1126" y="433" width="154" height="3"/>
</g>
<path fill="#FF00C8" shape-rendering="crispEdges" d="M0 528h1v2h-1zM1 528h1v2h-1zM2 528h1v2h-1zM3 528h1v3h-1zM4 529h1v2h-1zM5 529h1v2h-1zM6 529h1v2h-1zM7 529h1v2h-1zM8 529h1v3h-1zM9 530h1v2h-1zM10 530h1v2h-1zM11 530h1v2h-1zM12 530h1v3h-1zM13 531h1v2h-1zM14 531h1v3h-1zM15 532h1v2h-1zM16 532h1v3h-1zM17 533h1v2h-1zM18 533h1v3h-1zM19 534h1v2h-1zM20 534h1v3h-1zM21 535h1v2h-1zM22 535h1v3h-1zM23 536h1v2h-1zM24 536h1v2h-1zM25 536h1v3h-1zM26 537h1v2h-1zM27 537h1v3h-1zM28 538h1v2h-1zM29 538h1v3h-1zM30 539h1v2h-1zM31 539h1v2h-1zM32 539h1v3h-1zM33 540h1v2h-1zM34 540h1v3h-1zM35 541h1v2h-1zM36 541h1v2h-1zM37 541h1v2h-1zM38 541h1v3h-1zM39 542h1v2h-1zM40 542h1v2h-1zM41 542h1v2h-1zM42 542h1v3h-1zM43 543h1v2h-1zM44 543h1v2h-1zM45 543h1v1h-1z"/>
<path fill="#00F000" shape-rendering="crispEdges" d="M44 543h1v2h-1zM45 543h1v2h-1zM46 543h1v2h-1zM47 543h1v2h-1zM48 543h1v2h-1zM49 543h1v2h-1zM50 543h1v2h-1zM51 542h1v2h-1zM52 542h1v2h-1zM53 542h1v2h-1zM54 542h1v2h-1zM55 542h1v2h-1zM56 542h1v2h-1zM57 542h1v2h-1zM58 542h1v2h-1zM59 542h1v2h-1zM60 542h1v2h-1zM61 541h1v2h-1zM62 541h1v2h-1zM63 541h1v2h-1zM64 541h1v2h-1zM65 541h1v2h-1zM66 541h1v2h-1zM67 540h1v2h-1zM68 540h1v2h-1zM69 540h1v2h-1zM70 540h1v1h-1z"/>
<path fill="#FF00C8" shape-rendering="crispEdges" d="M69 540h1v2h-1zM70 540h1v2h-1zM71 540h1v2h-1zM72 540h1v2h-1zM73 540h1v2h-1zM74 540h1v2h-1zM75 540h1v2h-1zM76 540h1v2h-1zM77 540h1v2h-1zM78 540h1v3h-1zM79 541h1v2h-1zM80 541h1v2h-1zM81 541h1v2h-1zM82 541h1v2h-1zM83 541h1v2h-1zM84 541h1v2h-1zM85 541h1v2h-1zM86 541h1v2h-1zM87 541h1v2h-1zM88 541h1v2h-1zM89 541h1v3h-1zM90 542h1v2h-1zM91 542h1v3h-1zM92 543h1v2h-1zM93 543h1v3h-1zM94 544h1v2h-1zM95 544h1v2h-1zM96 544h1v3h-1zM97 545h1v2h-1zM98 545h1v2h-1zM99 545h1v3h-1zM100 546h1v2h-1zM101 546h1v3h-1zM102 547h1v2h-1zM103 547h1v2h-1zM104 547h1v3h-1zM105 548h1v2h-1zM106 548h1v3h-1zM107 549h1v3h-1zM108 550h1v3h-1zM109 551h1v2h-1zM110 551h1v3h-1zM111 552h1v3h-1zM112 553h1v3h-1zM113 554h1v3h-1zM114 555h1v3h-1zM115 556h1v4h-1zM116 557h1v4h-1zM117 559h1v3h-1zM118 560h1v2h-1zM119 560h1v2h-1zM120 560h1v2h-1zM121 560h1v2h-1zM122 560h1v2h-1zM123 560h1v2h-1zM124 560h1v1h-1z"/>
<path fill="#00F000" shape-rendering="crispEdges" d="M123 560h1v2h-1zM124 559h1v2h-1zM125 559h1v2h-1zM126 558h1v2h-1zM127 558h1v2h-1zM128 557h1v2h-1zM129 557h1v2h-1zM130 556h1v2h-1zM131 556h1v2h-1zM132 556h1v2h-1zM133 555h1v2h-1zM134 555h1v2h-1zM135 555h1v2h-1zM136 555h1v2h-1zM137 554h1v2h-1zM138 554h1v2h-1zM139 554h1v1h-1z"/>
<path fill="#FF00C8" shape-rendering="crispEdges" d="M138 554h1v2h-1zM139 554h1v2h-1zM140 554h1v3h-1zM141 555h1v2h-1zM142 555h1v3h-1zM143 556h1v2h-1zM144 556h1v2h-1zM145 556h1v3h-1zM146 557h1v2h-1zM147 557h1v2h-1zM148 557h1v3h-1zM149 558h1v2h-1zM150 558h1v2h-1zM151 558h1v2h-1zM152 558h1v3h-1zM153 559h1v2h-1zM154 559h1v2h-1zM155 559h1v1h-1z"/>
<path fill="#00F000" shape-rendering="crispEdges" d="M154 559h1v2h-1zM155 558h1v2h-1zM156 558h1v2h-1zM157 557h1v2h-1zM158 556h1v2h-1zM159 556h1v2h-1zM160 555h1v2h-1zM161 554h1v2h-1zM162 554h1v2h-1zM163 553h1v2h-1zM164 552h1v2h-1zM165 551h1v2h-1zM166 550h1v2h-1zM167 549h1v2h-1zM168 548h1v2h-1zM169 546h1v3h-1zM170 545h1v3h-1zM171 544h1v2h-1zM172 543h1v2h-1zM173 542h1v2h-1zM174 541h1v2h-1zM175 540h1v2h-1zM176 540h1v2h-1zM177 539h1v2h-1zM178 539h1v2h-1zM179 538h1v2h-1zM180 538h1v2h-1zM181 537h1v2h-1zM182 537h1v2h-1zM183 536h1v2h-1zM184 536h1v2h-1zM185 535h1v2h-1zM186 535h1v2h-1zM187 534h1v2h-1zM188 534h1v2h-1zM189 533h1v2h-1zM190 531h1v3h-1zM191 530h1v3h-1zM192 529h1v2h-1zM193 528h1v2h-1zM194 527h1v2h-1zM195 525h1v3h-1zM196 524h1v3h-1zM197 523h1v2h-1zM198 522h1v2h-1zM199 522h1v2h-1zM200 521h1v2h-1zM201 520h1v2h-1zM202 520h1v2h-1zM203 519h1v2h-1zM204 519h1v2h-1zM205 518h1v2h-1zM206 518h1v2h-1zM207 517h1v2h-1zM208 517h1v2h-1zM209 517h1v1h-1z"/>
<path fill="#FF00C8" shape-rendering="crispEdges" d="M208 517h1v2h-1zM209 517h1v3h-1zM210 518h1v3h-1zM211 519h1v2h-1zM212 519h1v3h-1zM213 520h1v3h-1zM214 521h1v3h-1zM215 522h1v3h-1zM216 523h1v3h-1zM217 524h1v2h-1zM218 524h1v3h-1zM219 525h1v3h-1zM220 526h1v4h-1zM221 527h1v5h-1zM222 529h1v5h-1zM223 531h1v4h-1zM224 533h1v4h-1zM225 534h1v5h-1zM226 536h1v5h-1zM227 538h1v4h-1zM228 540h1v4h-1zM229 541h1v5h-1zM230 543h1v4h-1zM231 545h1v4h-1zM232 546h1v4h-1zM233 548h1v4h-1zM234 549h1v5h-1zM235 551h1v4h-1zM236 553h1v2h-1zM237 553h1v2h-1zM238 553h1v3h-1zM239 554h1v2h-1zM240 554h1v2h-1zM241 554h1v1h-1z"/>
<path fill="#00F000" shape-rendering="crispEdges" d="M240 554h1v2h-1zM241 553h1v2h-1zM242 552h1v2h-1zM243 551h1v2h-1zM244 550h1v2h-1zM245 549h1v2h-1zM246 548h1v2h-1zM247 546h1v3h-1zM248 545h1v3h-1zM249 543h1v3h-1zM250 541h1v4h-1zM251 540h1v3h-1zM252 538h1v3h-1zM253 537h1v3h-1zM254 535h1v3h-1zM255 534h1v3h-1zM256 532h1v3h-1zM257 530h1v4h-1zM258 529h1v3h-1zM259 529h1v2h-1zM260 528h1v2h-1zM261 528h1v2h-1zM262 527h1v2h-1zM263 527h1v2h-1zM264 527h1v2h-1zM265 527h1v2h-1zM266 526h1v2h-1zM267 526h1v2h-1zM268 526h1v2h-1zM269 526h1v1h-1z"/>
<path fill="#FF00C8" shape-rendering="crispEdges" d="M268 526h1v2h-1zM269 526h1v2h-1zM270 526h1v2h-1zM271 526h1v2h-1zM272 526h1v2h-1zM273 526h1v2h-1zM274 526h1v1h-1z"/>
<path fill="#00F000" shape-rendering="crispEdges" d="M273 526h1v2h-1zM274 526h1v2h-1zM275 526h1v2h-1zM276 526h1v2h-1zM277 526h1v2h-1zM278 525h1v2h-1zM279 525h1v2h-1zM280 525h1v2h-1zM281 525h1v2h-1zM282 525h1v2h-1zM283 525h1v1h-1z"/>
<path fill="#FF00C8" shape-rendering="crispEdges" d="M282 525h1v2h-1zM283 525h1v2h-1zM284 525h1v2h-1zM285 525h1v3h-1zM286 526h1v2h-1zM287 526h1v2h-1zM288 526h1v2h-1zM289 526h1v2h-1zM290 526h1v2h-1zM291 526h1v3h-1zM292 527h1v2h-1zM293 527h1v2h-1zM294 527h1v2h-1zM295 527h1v2h-1zM296 527h1v3h-1zM297 528h1v2h-1zM298 528h1v2h-1zM299 528h1v3h-1zM300 529h1v2h-1zM301 529h1v2h-1zM302 529h1v3h-1zM303 530h1v2h-1zM304 530h1v2h-1zM305 530h1v3h-1zM306 531h1v2h-1zM307 531h1v3h-1zM308 532h1v2h-1zM309 532h1v3h-1zM310 533h1v2h-1zM311 533h1v3h-1zM312 534h1v2h-1zM313 534h1v3h-1zM314 535h1v4h-1zM315 536h1v4h-1zM316 538h1v3h-1zM317 539h1v4h-1zM318 540h1v4h-1zM319 542h1v3h-1zM320 543h1v3h-1zM321 544h1v3h-1zM322 545h1v3h-1zM323 546h1v3h-1zM324 547h1v4h-1zM325 548h1v4h-1zM326 550h1v3h-1zM327 551h1v3h-1zM328 552h1v3h-1zM329 553h1v3h-1zM330 554h1v2h-1zM331 554h1v2h-1zM332 554h1v3h-1zM333 555h1v2h-1zM334 555h1v2h-1zM335 555h1v2h-1zM336 555h1v3h-1zM337 556h1v2h-1zM338 556h1v2h-1zM339 556h1v2h-1zM340 556h1v3h-1zM341 557h1v2h-1zM342 557h1v3h-1zM343 558h1v2h-1zM344 558h1v2h-1zM345 558h1v3h-1zM346 559h1v2h-1zM347 559h1v1h-1z"/>
<path fill="#00F000" shape-rendering="crispEdges" d="M346 559h1v2h-1zM347 559h1v2h-1zM348 558h1v2h-1zM349 558h1v2h-1zM350 558h1v2h-1zM351 558h1v2h-1zM352 557h1v2h-1zM353 557h1v2h-1zM354 556h1v2h-1zM355 555h1v2h-1zM356 554h1v2h-1zM357 554h1v2h-1zM358 553h1v2h-1zM359 552h1v2h-1zM360 551h1v2h-1zM361 549h1v3h-1zM362 548h1v3h-1zM363 546h1v3h-1zM364 545h1v3h-1zM365 543h1v3h-1zM366 542h1v3h-1zM367 540h1v3h-1zM368 538h1v4h-1zM369 537h1v3h-1zM370 535h1v3h-1zM371 533h1v4h-1zM372 532h1v3h-1zM373 531h1v2h-1zM374 530h1v2h-1zM375 529h1v2h-1zM376 528h1v2h-1zM377 526h1v3h-1zM378 525h1v3h-1zM379 524h1v2h-1zM380 523h1v2h-1zM381 522h1v2h-1zM382 522h1v2h-1zM383 521h1v2h-1zM384 521h1v2h-1zM385 520h1v2h-1zM386 520h1v2h-1zM387 520h1v2h-1zM388 520h1v2h-1zM389 519h1v2h-1zM390 519h1v2h-1zM391 519h1v2h-1zM392 519h1v2h-1zM393 519h1v1h-1z"/>
<path fill="#FF00C8" shape-rendering="crispEdges" d="M392 519h1v2h-1zM393 519h1v2h-1zM394 519h1v3h-1zM395 520h1v2h-1zM396 520h1v2h-1zM397 520h1v2h-1zM398 520h1v3h-1zM399 521h1v2h-1zM400 521h1v3h-1zM401 522h1v2h-1zM402 522h1v3h-1zM403 523h1v2h-1zM404 523h1v3h-1zM405 524h1v2h-1zM406 524h1v3h-1zM407 525h1v2h-1zM408 525h1v3h-1zM409 526h1v3h-1zM410 527h1v3h-1zM411 528h1v2h-1zM412 528h1v3h-1zM413 529h1v3h-1zM414 530h1v3h-1zM415 531h1v2h-1zM416 531h1v3h-1zM417 532h1v3h-1zM418 533h1v3h-1zM419 534h1v2h-1zM420 534h1v3h-1zM421 535h1v3h-1zM422 536h1v3h-1zM423 537h1v2h-1zM424 537h1v3h-1zM425 538h1v3h-1zM426 539h1v2h-1zM427 539h1v2h-1zM428 539h1v2h-1zM429 539h1v3h-1zM430 540h1v2h-1zM431 540h1v2h-1zM432 540h1v2h-1zM433 540h1v2h-1zM434 540h1v2h-1zM435 540h1v3h-1zM436 541h1v2h-1zM437 541h1v2h-1zM438 541h1v2h-1zM439 541h1v1h-1z"/>
<path fill="#00F000" shape-rendering="crispEdges" d="M438 541h1v2h-1zM439 541h1v2h-1zM440 541h1v2h-1zM441 541h1v2h-1zM442 540h1v2h-1zM443 540h1v2h-1zM444 540h1v2h-1zM445 540h1v2h-1zM446 540h1v2h-1zM447 540h1v2h-1zM448 540h1v2h-1zM449 539h1v2h-1zM450 539h1v2h-1zM451 539h1v2h-1zM452 539h1v2h-1zM453 539h1v1h-1z"/>
<path fill="#FF00C8" shape-rendering="crispEdges" d="M452 539h1v2h-1zM453 539h1v2h-1zM454 539h1v2h-1zM455 539h1v3h-1zM456 540h1v2h-1zM457 540h1v2h-1zM458 540h1v2h-1zM459 540h1v3h-1zM460 541h1v2h-1zM461 541h1v2h-1zM462 541h1v2h-1zM463 541h1v2h-1zM464 541h1v2h-1zM465 541h1v2h-1zM466 541h1v2h-1zM467 541h1v2h-1zM468 541h1v3h-1zM469 542h1v2h-1zM470 542h1v2h-1zM471 542h1v2h-1zM472 542h1v2h-1zM473 542h1v2h-1zM474 542h1v2h-1zM475 542h1v2h-1zM476 542h1v2h-1zM477 542h1v3h-1zM478 543h1v2h-1zM479 543h1v2h-1zM480 543h1v2h-1zM481 543h1v2h-1zM482 543h1v2h-1zM483 543h1v3h-1zM484 544h1v2h-1zM485 544h1v2h-1zM486 544h1v2h-1zM487 544h1v1h-1z"/>
<path fill="#00F000" shape-rendering="crispEdges" d="M486 544h1v2h-1zM487 544h1v2h-1zM488 543h1v2h-1zM489 543h1v2h-1zM490 543h1v2h-1zM491 543h1v2h-1zM492 542h1v2h-1zM493 542h1v2h-1zM494 541h1v2h-1zM495 541h1v2h-1zM496 540h1v2h-1zM497 540h1v2h-1zM498 539h1v2h-1zM499 539h1v2h-1zM500 538h1v2h-1zM501 538h1v2h-1zM502 537h1v2h-1zM503 537h1v2h-1zM504 537h1v2h-1zM505 537h1v2h-1zM506 536h1v2h-1zM507 536h1v2h-1zM508 536h1v1h-1z"/>
<path fill="#FF00C8" shape-rendering="crispEdges" d="M507 536h1v2h-1zM508 536h1v3h-1zM509 537h1v2h-1zM510 537h1v3h-1zM511 538h1v2h-1zM512 538h1v3h-1zM513 539h1v2h-1zM514 539h1v3h-1zM515 540h1v2h-1zM516 540h1v3h-1zM517 541h1v3h-1zM518 542h1v3h-1zM519 543h1v2h-1zM520 543h1v3h-1zM521 544h1v3h-1zM522 545h1v3h-1zM523 546h1v2h-1zM524 546h1v3h-1zM525 547h1v2h-1zM526 547h1v3h-1zM527 548h1v2h-1zM528 548h1v3h-1zM529 549h1v2h-1zM530 549h1v2h-1zM531 549h1v3h-1zM532 550h1v2h-1zM533 550h1v2h-1zM534 550h1v3h-1zM535 551h1v2h-1zM536 551h1v1h-1z"/>
<path fill="#00F000" shape-rendering="crispEdges" d="M535 551h1v2h-1zM536 551h1v2h-1zM537 550h1v2h-1zM538 550h1v2h-1zM539 550h1v2h-1zM540 549h1v2h-1zM541 549h1v2h-1zM542 549h1v2h-1zM543 549h1v2h-1zM544 549h1v2h-1zM545 549h1v2h-1zM546 548h1v2h-1zM547 548h1v2h-1zM548 548h1v2h-1zM549 548h1v2h-1zM550 548h1v2h-1zM551 547h1v2h-1zM552 546h1v2h-1zM553 545h1v2h-1zM554 544h1v2h-1zM555 544h1v2h-1zM556 543h1v2h-1zM557 542h1v2h-1zM558 541h1v2h-1zM559 540h1v2h-1zM560 539h1v2h-1zM561 539h1v2h-1zM562 538h1v2h-1zM563 537h1v2h-1zM564 536h1v2h-1zM565 536h1v2h-1zM566 535h1v2h-1zM567 534h1v2h-1zM568 534h1v2h-1zM569 533h1v2h-1zM570 532h1v2h-1zM571 531h1v2h-1zM572 531h1v2h-1zM573 530h1v2h-1zM574 530h1v2h-1zM575 530h1v2h-1zM576 530h1v2h-1zM577 530h1v2h-1zM578 530h1v2h-1zM579 530h1v2h-1zM580 530h1v1h-1z"/>
<path fill="#FF00C8" shape-rendering="crispEdges" d="M579 530h1v2h-1zM580 530h1v2h-1zM581 530h1v2h-1zM582 530h1v3h-1zM583 531h1v2h-1zM584 531h1v2h-1zM585 531h1v2h-1zM586 531h1v3h-1zM587 532h1v2h-1zM588 532h1v2h-1zM589 532h1v2h-1zM590 532h1v2h-1zM591 532h1v3h-1zM592 533h1v2h-1zM593 533h1v2h-1zM594 533h1v2h-1zM595 533h1v3h-1zM596 534h1v2h-1zM597 534h1v2h-1zM598 534h1v2h-1zM599 534h1v2h-1zM600 534h1v3h-1zM601 535h1v2h-1zM602 535h1v2h-1zM603 535h1v2h-1zM604 535h1v3h-1zM605 536h1v2h-1zM606 536h1v2h-1zM607 536h1v3h-1zM608 537h1v2h-1zM609 537h1v2h-1zM610 537h1v3h-1zM611 538h1v2h-1zM612 538h1v2h-1zM613 538h1v3h-1zM614 539h1v2h-1zM615 539h1v2h-1zM616 539h1v2h-1zM617 539h1v2h-1zM618 539h1v2h-1zM619 539h1v2h-1zM620 539h1v2h-1zM621 539h1v3h-1zM622 540h1v2h-1zM623 540h1v2h-1zM624 540h1v2h-1zM625 540h1v2h-1zM626 540h1v2h-1zM627 540h1v2h-1zM628 540h1v2h-1zM629 540h1v2h-1zM630 540h1v2h-1zM631 540h1v2h-1zM632 540h1v2h-1zM633 540h1v3h-1zM634 541h1v2h-1zM635 541h1v2h-1zM636 541h1v2h-1zM637 541h1v2h-1zM638 541h1v2h-1zM639 541h1v2h-1zM640 541h1v1h-1z"/>
<path fill="#00F000" shape-rendering="crispEdges" d="M639 541h1v2h-1zM640 541h1v2h-1zM641 541h1v2h-1zM642 541h1v2h-1zM643 541h1v2h-1zM644 540h1v2h-1zM645 540h1v2h-1zM646 540h1v2h-1zM647 540h1v2h-1zM648 540h1v2h-1zM649 540h1v1h-1z"/>
<path fill="#FF00C8" shape-rendering="crispEdges" d="M648 540h1v2h-1zM649 540h1v2h-1zM650 540h1v2h-1zM651 540h1v2h-1zM652 540h1v2h-1zM653 540h1v2h-1zM654 540h1v2h-1zM655 540h1v2h-1zM656 540h1v3h-1zM657 541h1v2h-1zM658 541h1v2h-1zM659 541h1v2h-1zM660 541h1v2h-1zM661 541h1v2h-1zM662 541h1v2h-1zM663 541h1v2h-1zM664 541h1v1h-1z"/>
<path fill="#00F000" shape-rendering="crispEdges" d="M663 541h1v2h-1zM664 541h1v2h-1zM665 541h1v3h-1zM666 542h1v2h-1zM667 542h1v2h-1zM668 542h1v1h-1z"/>
<path fill="#FF00C8" shape-rendering="crispEdges" d="M667 542h1v2h-1zM668 542h1v2h-1zM669 542h1v2h-1zM670 542h1v2h-1zM671 542h1v2h-1zM672 542h1v3h-1zM673 543h1v2h-1zM674 543h1v2h-1zM675 543h1v2h-1zM676 543h1v2h-1zM677 543h1v1h-1z"/>
<path fill="#00F000" shape-rendering="crispEdges" d="M676 543h1v2h-1zM677 543h1v2h-1zM678 543h1v2h-1zM679 542h1v2h-1zM680 542h1v2h-1zM681 542h1v2h-1zM682 542h1v2h-1zM683 542h1v2h-1zM684 541h1v2h-1zM685 541h1v2h-1zM686 541h1v2h-1zM687 541h1v2h-1zM688 540h1v2h-1zM689 540h1v2h-1zM690 540h1v2h-1zM691 540h1v2h-1zM692 539h1v2h-1zM693 539h1v2h-1zM694 539h1v2h-1zM695 538h1v2h-1zM696 538h1v2h-1zM697 538h1v2h-1zM698 538h1v2h-1zM699 537h1v2h-1zM700 537h1v2h-1zM701 537h1v2h-1zM702 537h1v2h-1zM703 537h1v2h-1zM704 537h1v2h-1zM705 537h1v2h-1zM706 536h1v2h-1zM707 536h1v2h-1zM708 536h1v2h-1zM709 536h1v2h-1zM710 536h1v2h-1zM711 536h1v2h-1zM712 536h1v1h-1z"/>
<path fill="#FF00C8" shape-rendering="crispEdges" d="M711 536h1v2h-1zM712 536h1v2h-1zM713 536h1v3h-1zM714 537h1v2h-1zM715 537h1v3h-1zM716 538h1v2h-1zM717 538h1v2h-1zM718 538h1v3h-1zM719 539h1v2h-1zM720 539h1v3h-1zM721 540h1v2h-1zM722 540h1v3h-1zM723 541h1v3h-1zM724 542h1v2h-1zM725 542h1v3h-1zM726 543h1v2h-1zM727 543h1v3h-1zM728 544h1v2h-1zM729 544h1v3h-1zM730 545h1v2h-1zM731 545h1v3h-1zM732 546h1v2h-1zM733 546h1v3h-1zM734 547h1v2h-1zM735 547h1v2h-1zM736 547h1v2h-1zM737 547h1v3h-1zM738 548h1v2h-1zM739 548h1v2h-1zM740 548h1v2h-1zM741 548h1v1h-1z"/>
<path fill="#00F000" shape-rendering="crispEdges" d="M740 548h1v2h-1zM741 548h1v2h-1zM742 548h1v2h-1zM743 548h1v2h-1zM744 547h1v2h-1zM745 547h1v2h-1zM746 547h1v2h-1zM747 547h1v2h-1zM748 547h1v2h-1zM749 547h1v2h-1zM750 547h1v2h-1zM751 547h1v2h-1zM752 546h1v2h-1zM753 546h1v2h-1zM754 546h1v2h-1zM755 546h1v2h-1zM756 546h1v1h-1z"/>
<path fill="#FF00C8" shape-rendering="crispEdges" d="M755 546h1v2h-1zM756 546h1v2h-1zM757 546h1v3h-1zM758 547h1v2h-1zM759 547h1v2h-1zM760 547h1v2h-1zM761 547h1v3h-1zM762 548h1v2h-1zM763 548h1v2h-1zM764 548h1v3h-1zM765 549h1v2h-1zM766 549h1v3h-1zM767 550h1v2h-1zM768 550h1v3h-1zM769 551h1v2h-1zM770 551h1v2h-1zM771 551h1v2h-1zM772 551h1v2h-1zM773 551h1v2h-1zM774 551h1v2h-1zM775 551h1v2h-1zM776 551h1v1h-1z"/>
<path fill="#00F000" shape-rendering="crispEdges" d="M775 551h1v2h-1zM776 550h1v2h-1zM777 550h1v2h-1zM778 549h1v2h-1zM779 548h1v2h-1zM780 547h1v2h-1zM781 547h1v2h-1zM782 546h1v2h-1zM783 545h1v2h-1zM784 544h1v2h-1zM785 544h1v2h-1zM786 543h1v2h-1zM787 542h1v2h-1zM788 541h1v2h-1zM789 541h1v2h-1zM790 540h1v2h-1zM791 539h1v2h-1zM792 538h1v2h-1zM793 537h1v2h-1zM794 536h1v2h-1zM795 535h1v2h-1zM796 534h1v2h-1zM797 533h1v2h-1zM798 532h1v2h-1zM799 531h1v2h-1zM800 531h1v2h-1zM801 530h1v2h-1zM802 530h1v2h-1zM803 529h1v2h-1zM804 529h1v2h-1zM805 528h1v2h-1zM806 528h1v2h-1zM807 528h1v2h-1zM808 528h1v2h-1zM809 527h1v2h-1zM810 527h1v2h-1zM811 527h1v2h-1zM812 527h1v2h-1zM813 527h1v2h-1zM814 527h1v1h-1z"/>
<path fill="#FF00C8" shape-rendering="crispEdges" d="M813 527h1v2h-1zM814 527h1v2h-1zM815 527h1v3h-1zM816 528h1v2h-1zM817 528h1v3h-1zM818 529h1v2h-1zM819 529h1v2h-1zM820 529h1v3h-1zM821 530h1v2h-1zM822 530h1v3h-1zM823 531h1v2h-1zM824 531h1v3h-1zM825 532h1v3h-1zM826 533h1v2h-1zM827 533h1v3h-1zM828 534h1v3h-1zM829 535h1v3h-1zM830 536h1v2h-1zM831 536h1v3h-1zM832 537h1v3h-1zM833 538h1v3h-1zM834 539h1v2h-1zM835 539h1v3h-1zM836 540h1v2h-1zM837 540h1v3h-1zM838 541h1v2h-1zM839 541h1v3h-1zM840 542h1v2h-1zM841 542h1v2h-1zM842 542h1v3h-1zM843 543h1v2h-1zM844 543h1v2h-1zM845 543h1v1h-1z"/>
<path fill="#00F000" shape-rendering="crispEdges" d="M844 543h1v2h-1zM845 543h1v2h-1zM846 542h1v2h-1zM847 542h1v2h-1zM848 541h1v2h-1zM849 541h1v2h-1zM850 540h1v2h-1zM851 540h1v2h-1zM852 539h1v2h-1zM853 539h1v2h-1zM854 538h1v2h-1zM855 538h1v2h-1zM856 537h1v2h-1zM857 537h1v2h-1zM858 536h1v2h-1zM859 536h1v2h-1zM860 535h1v2h-1zM861 535h1v2h-1zM862 535h1v2h-1zM863 535h1v2h-1zM864 534h1v2h-1zM865 534h1v2h-1zM866 534h1v2h-1zM867 534h1v2h-1zM868 534h1v2h-1zM869 534h1v1h-1z"/>
<path fill="#FF00C8" shape-rendering="crispEdges" d="M868 534h1v2h-1zM869 534h1v2h-1zM870 534h1v3h-1zM871 535h1v2h-1zM872 535h1v2h-1zM873 535h1v3h-1zM874 536h1v2h-1zM875 536h1v2h-1zM876 536h1v2h-1zM877 536h1v3h-1zM878 537h1v2h-1zM879 537h1v2h-1zM880 537h1v3h-1zM881 538h1v2h-1zM882 538h1v3h-1zM883 539h1v2h-1zM884 539h1v3h-1zM885 540h1v2h-1zM886 540h1v3h-1zM887 541h1v2h-1zM888 541h1v2h-1zM889 541h1v3h-1zM890 542h1v2h-1zM891 542h1v3h-1zM892 543h1v2h-1zM893 543h1v3h-1zM894 544h1v2h-1zM895 544h1v3h-1zM896 545h1v2h-1zM897 545h1v2h-1zM898 545h1v2h-1zM899 545h1v3h-1zM900 546h1v2h-1zM901 546h1v2h-1zM902 546h1v2h-1zM903 546h1v2h-1zM904 546h1v2h-1zM905 546h1v3h-1zM906 547h1v2h-1zM907 547h1v2h-1zM908 547h1v2h-1zM909 547h1v2h-1zM910 547h1v2h-1zM911 547h1v2h-1zM912 547h1v3h-1zM913 548h1v2h-1zM914 548h1v2h-1zM915 548h1v2h-1zM916 548h1v2h-1zM917 548h1v1h-1z"/>
<path fill="#00F000" shape-rendering="crispEdges" d="M916 548h1v2h-1zM917 548h1v2h-1zM918 547h1v2h-1zM919 547h1v2h-1zM920 547h1v2h-1zM921 547h1v2h-1zM922 546h1v2h-1zM923 546h1v2h-1zM924 545h1v2h-1zM925 545h1v2h-1zM926 545h1v2h-1zM927 545h1v2h-1zM928 545h1v3h-1zM929 546h1v2h-1zM930 546h1v2h-1zM931 546h1v1h-1z"/>
<path fill="#FF00C8" shape-rendering="crispEdges" d="M930 546h1v2h-1zM931 546h1v2h-1zM932 546h1v3h-1zM933 547h1v2h-1zM934 547h1v2h-1zM935 547h1v3h-1zM936 548h1v2h-1zM937 548h1v2h-1zM938 548h1v3h-1zM939 549h1v2h-1zM940 549h1v2h-1zM941 549h1v2h-1zM942 549h1v2h-1zM943 549h1v2h-1zM944 549h1v3h-1zM945 550h1v2h-1zM946 550h1v2h-1zM947 550h1v2h-1zM948 550h1v2h-1zM949 550h1v1h-1z"/>
<path fill="#00F000" shape-rendering="crispEdges" d="M948 550h1v2h-1zM949 550h1v2h-1zM950 550h1v2h-1zM951 550h1v2h-1zM952 550h1v2h-1zM953 550h1v2h-1zM954 549h1v2h-1zM955 549h1v2h-1zM956 549h1v2h-1zM957 549h1v2h-1zM958 549h1v2h-1zM959 549h1v2h-1zM960 549h1v2h-1zM961 548h1v2h-1zM962 548h1v2h-1zM963 547h1v2h-1zM964 546h1v2h-1zM965 545h1v2h-1zM966 545h1v2h-1zM967 544h1v2h-1zM968 543h1v2h-1zM969 542h1v2h-1zM970 542h1v2h-1zM971 541h1v2h-1zM972 540h1v2h-1zM973 540h1v2h-1zM974 539h1v2h-1zM975 539h1v2h-1zM976 538h1v2h-1zM977 538h1v2h-1zM978 537h1v2h-1zM979 537h1v2h-1zM980 536h1v2h-1zM981 536h1v2h-1zM982 535h1v2h-1zM983 534h1v2h-1zM984 533h1v2h-1zM985 533h1v2h-1zM986 532h1v2h-1zM987 531h1v2h-1zM988 530h1v2h-1zM989 530h1v2h-1zM990 529h1v2h-1zM991 528h1v2h-1zM992 527h1v2h-1zM993 526h1v2h-1zM994 525h1v2h-1zM995 525h1v2h-1zM996 524h1v2h-1zM997 523h1v2h-1zM998 522h1v2h-1zM999 522h1v2h-1zM1000 521h1v2h-1zM1001 521h1v2h-1zM1002 520h1v2h-1zM1003 520h1v2h-1zM1004 519h1v2h-1zM1005 519h1v2h-1zM1006 519h1v1h-1z"/>
<path fill="#FF00C8" shape-rendering="crispEdges" d="M1005 519h1v2h-1zM1006 519h1v3h-1zM1007 520h1v3h-1zM1008 521h1v2h-1zM1009 521h1v3h-1zM1010 522h1v3h-1zM1011 523h1v3h-1zM1012 524h1v3h-1zM1013 525h1v3h-1zM1014 526h1v2h-1zM1015 526h1v3h-1zM1016 527h1v3h-1zM1017 528h1v3h-1zM1018 529h1v3h-1zM1019 530h1v3h-1zM1020 531h1v3h-1zM1021 532h1v4h-1zM1022 533h1v4h-1zM1023 535h1v3h-1zM1024 536h1v3h-1zM1025 537h1v3h-1zM1026 538h1v3h-1zM1027 539h1v2h-1zM1028 539h1v2h-1zM1029 539h1v3h-1zM1030 540h1v2h-1zM1031 540h1v2h-1zM1032 540h1v2h-1zM1033 540h1v1h-1z"/>
<path fill="#00F000" shape-rendering="crispEdges" d="M1032 540h1v2h-1zM1033 540h1v2h-1zM1034 540h1v2h-1zM1035 540h1v2h-1zM1036 540h1v2h-1zM1037 540h1v2h-1zM1038 540h1v1h-1z"/>
<path fill="#FF00C8" shape-rendering="crispEdges" d="M1037 540h1v2h-1zM1038 540h1v2h-1zM1039 540h1v3h-1zM1040 541h1v2h-1zM1041 541h1v3h-1zM1042 542h1v2h-1zM1043 542h1v3h-1zM1044 543h1v2h-1zM1045 543h1v3h-1zM1046 544h1v2h-1zM1047 544h1v3h-1zM1048 545h1v2h-1zM1049 545h1v3h-1zM1050 546h1v2h-1zM1051 546h1v3h-1zM1052 547h1v3h-1zM1053 548h1v3h-1zM1054 549h1v3h-1zM1055 550h1v4h-1zM1056 551h1v4h-1zM1057 553h1v3h-1zM1058 554h1v3h-1zM1059 555h1v3h-1zM1060 556h1v4h-1zM1061 557h1v5h-1zM1062 559h1v5h-1zM1063 561h1v5h-1zM1064 563h1v5h-1zM1065 565h1v5h-1zM1066 567h1v5h-1zM1067 569h1v4h-1zM1068 571h1v3h-1zM1069 572h1v4h-1zM1070 573h1v4h-1zM1071 575h1v3h-1zM1072 576h1v4h-1zM1073 577h1v4h-1zM1074 579h1v3h-1zM1075 580h1v2h-1zM1076 580h1v2h-1zM1077 580h1v2h-1zM1078 580h1v1h-1z"/>
<path fill="#00F000" shape-rendering="crispEdges" d="M1077 580h1v2h-1zM1078 578h1v3h-1zM1079 576h1v4h-1zM1080 574h1v4h-1zM1081 572h1v4h-1zM1082 571h1v3h-1zM1083 569h1v3h-1zM1084 567h1v4h-1zM1085 565h1v4h-1zM1086 563h1v4h-1zM1087 562h1v3h-1zM1088 561h1v2h-1zM1089 559h1v3h-1zM1090 558h1v3h-1zM1091 557h1v2h-1zM1092 556h1v2h-1zM1093 555h1v2h-1zM1094 553h1v3h-1zM1095 552h1v3h-1zM1096 551h1v2h-1zM1097 550h1v2h-1zM1098 548h1v3h-1zM1099 547h1v3h-1zM1100 546h1v2h-1zM1101 544h1v3h-1zM1102 543h1v3h-1zM1103 542h1v2h-1zM1104 540h1v3h-1zM1105 539h1v3h-1zM1106 538h1v2h-1zM1107 538h1v1h-1z"/>
<path fill="#0000FF" shape-rendering="crispEdges" d="M0 530h1v2h-1zM1 530h1v2h-1zM2 530h1v3h-1zM3 531h1v2h-1zM4 531h1v2h-1zM5 531h1v2h-1zM6 531h1v3h-1zM7 532h1v2h-1zM8 532h1v3h-1zM9 533h1v2h-1zM10 533h1v3h-1zM11 534h1v3h-1zM12 535h1v2h-1zM13 535h1v3h-1zM14 536h1v3h-1zM15 537h1v2h-1zM16 537h1v3h-1zM17 538h1v3h-1zM18 539h1v2h-1zM19 539h1v3h-1zM20 540h1v3h-1zM21 541h1v3h-1zM22 542h1v2h-1zM23 542h1v3h-1zM24 543h1v3h-1zM25 544h1v2h-1zM26 544h1v3h-1zM27 545h1v2h-1zM28 545h1v3h-1zM29 546h1v2h-1zM30 546h1v2h-1zM31 546h1v3h-1zM32 547h1v2h-1zM33 547h1v2h-1zM34 547h1v3h-1zM35 548h1v2h-1zM36 548h1v2h-1zM37 548h1v2h-1zM38 547h1v2h-1zM39 547h1v2h-1zM40 547h1v2h-1zM41 546h1v2h-1zM42 546h1v2h-1zM43 545h1v2h-1zM44 544h1v2h-1zM45 544h1v2h-1zM46 543h1v2h-1zM47 543h1v2h-1zM48 543h1v2h-1zM49 542h1v2h-1zM50 542h1v2h-1zM51 542h1v2h-1zM52 542h1v2h-1zM53 542h1v2h-1zM54 542h1v2h-1zM55 541h1v2h-1zM56 541h1v2h-1zM57 541h1v2h-1zM58 541h1v2h-1zM59 540h1v2h-1zM60 540h1v2h-1zM61 539h1v2h-1zM62 539h1v2h-1zM63 539h1v2h-1zM64 538h1v2h-1zM65 538h1v2h-1zM66 538h1v2h-1zM67 538h1v2h-1zM68 538h1v2h-1zM69 538h1v3h-1zM70 539h1v2h-1zM71 539h1v3h-1zM72 540h1v2h-1zM73 540h1v3h-1zM74 541h1v2h-1zM75 541h1v3h-1zM76 542h1v2h-1zM77 542h1v2h-1zM78 542h1v2h-1zM79 542h1v2h-1zM80 542h1v2h-1zM81 542h1v2h-1zM82 542h1v2h-1zM83 542h1v2h-1zM84 542h1v2h-1zM85 542h1v2h-1zM86 542h1v2h-1zM87 542h1v3h-1zM88 543h1v3h-1zM89 544h1v4h-1zM90 545h1v4h-1zM91 547h1v3h-1zM92 548h1v3h-1zM93 549h1v2h-1zM94 549h1v2h-1zM95 549h1v3h-1zM96 550h1v2h-1zM97 550h1v2h-1zM98 550h1v2h-1zM99 550h1v3h-1zM100 551h1v2h-1zM101 551h1v2h-1zM102 551h1v3h-1zM103 552h1v3h-1zM104 553h1v2h-1zM105 553h1v3h-1zM106 554h1v3h-1zM107 555h1v4h-1zM108 556h1v4h-1zM109 558h1v4h-1zM110 559h1v5h-1zM111 561h1v5h-1zM112 563h1v6h-1zM113 565h1v8h-1zM114 568h1v7h-1zM115 572h1v3h-1zM116 573h1v2h-1zM117 573h1v2h-1zM118 571h1v3h-1zM119 570h1v3h-1zM120 569h1v2h-1zM121 567h1v3h-1zM122 565h1v4h-1zM123 562h1v5h-1zM124 558h1v7h-1zM125 555h1v7h-1zM126 553h1v5h-1zM127 552h1v3h-1zM128 552h1v2h-1zM129 551h1v2h-1zM130 550h1v2h-1zM131 550h1v2h-1zM132 549h1v2h-1zM133 549h1v2h-1zM134 549h1v2h-1zM135 549h1v3h-1zM136 550h1v2h-1zM137 550h1v2h-1zM138 550h1v2h-1zM139 550h1v4h-1zM140 551h1v5h-1zM141 553h1v5h-1zM142 555h1v5h-1zM143 557h1v4h-1zM144 559h1v3h-1zM145 560h1v3h-1zM146 561h1v2h-1zM147 561h1v3h-1zM148 562h1v3h-1zM149 563h1v2h-1zM150 563h1v2h-1zM151 562h1v2h-1zM152 562h1v2h-1zM153 561h1v3h-1zM154 559h1v4h-1zM155 556h1v5h-1zM156 553h1v6h-1zM157 551h1v5h-1zM158 549h1v4h-1zM159 547h1v4h-1zM160 545h1v4h-1zM161 543h1v4h-1zM162 541h1v4h-1zM163 538h1v5h-1zM164 536h1v5h-1zM165 534h1v4h-1zM166 532h1v4h-1zM167 530h1v4h-1zM168 528h1v4h-1zM169 528h1v2h-1zM170 528h1v2h-1zM171 528h1v2h-1zM172 528h1v3h-1zM173 529h1v3h-1zM174 530h1v3h-1zM175 531h1v3h-1zM176 532h1v2h-1zM177 532h1v3h-1zM178 533h1v3h-1zM179 534h1v3h-1zM180 534h1v2h-1zM181 532h1v3h-1zM182 531h1v3h-1zM183 530h1v2h-1zM184 528h1v3h-1zM185 527h1v3h-1zM186 526h1v2h-1zM187 524h1v3h-1zM188 522h1v4h-1zM189 520h1v4h-1zM190 519h1v3h-1zM191 517h1v3h-1zM192 515h1v4h-1zM193 513h1v4h-1zM194 512h1v3h-1zM195 510h1v3h-1zM196 509h1v3h-1zM197 508h1v2h-1zM198 506h1v3h-1zM199 505h1v3h-1zM200 505h1v2h-1zM201 505h1v2h-1zM202 505h1v2h-1zM203 505h1v2h-1zM204 505h1v4h-1zM205 506h1v4h-1zM206 508h1v4h-1zM207 509h1v4h-1zM208 511h1v4h-1zM209 512h1v5h-1zM210 514h1v7h-1zM211 516h1v9h-1zM212 520h1v9h-1zM213 524h1v9h-1zM214 528h1v9h-1zM215 532h1v8h-1zM216 536h1v6h-1zM217 539h1v5h-1zM218 541h1v6h-1zM219 543h1v6h-1zM220 546h1v6h-1zM221 548h1v7h-1zM222 551h1v7h-1zM223 554h1v6h-1zM224 557h1v6h-1zM225 559h1v7h-1zM226 562h1v6h-1zM227 565h1v5h-1zM228 567h1v4h-1zM229 569h1v3h-1zM230 570h1v4h-1zM231 571h1v4h-1zM232 573h1v2h-1zM233 573h1v2h-1zM234 572h1v3h-1zM235 570h1v4h-1zM236 567h1v5h-1zM237 565h1v5h-1zM238 561h1v6h-1zM239 555h1v10h-1zM240 549h1v12h-1zM241 545h1v10h-1zM242 542h1v7h-1zM243 539h1v6h-1zM244 535h1v7h-1zM245 532h1v7h-1zM246 529h1v6h-1zM247 526h1v6h-1zM248 522h1v7h-1zM249 519h1v7h-1zM250 517h1v5h-1zM251 515h1v4h-1zM252 513h1v4h-1zM253 511h1v4h-1zM254 510h1v3h-1zM255 510h1v2h-1zM256 510h1v2h-1zM257 510h1v4h-1zM258 511h1v4h-1zM259 513h1v3h-1zM260 514h1v4h-1zM261 515h1v4h-1zM262 517h1v4h-1zM263 518h1v5h-1zM264 520h1v4h-1zM265 522h1v4h-1zM266 523h1v5h-1zM267 525h1v4h-1zM268 527h1v2h-1zM269 527h1v2h-1zM270 527h1v2h-1zM271 527h1v2h-1zM272 527h1v2h-1zM273 526h1v2h-1zM274 525h1v2h-1zM275 524h1v2h-1zM276 523h1v2h-1zM277 522h1v2h-1zM278 522h1v2h-1zM279 522h1v2h-1zM280 522h1v2h-1zM281 522h1v2h-1zM282 522h1v2h-1zM283 522h1v4h-1zM284 523h1v4h-1zM285 525h1v3h-1zM286 526h1v4h-1zM287 527h1v4h-1zM288 529h1v2h-1zM289 529h1v2h-1zM290 529h1v3h-1zM291 530h1v2h-1zM292 530h1v2h-1zM293 530h1v2h-1zM294 530h1v2h-1zM295 530h1v3h-1zM296 531h1v2h-1zM297 531h1v2h-1zM298 531h1v3h-1zM299 532h1v2h-1zM300 532h1v3h-1zM301 533h1v2h-1zM302 533h1v3h-1zM303 534h1v2h-1zM304 534h1v3h-1zM305 535h1v3h-1zM306 536h1v3h-1zM307 537h1v3h-1zM308 538h1v2h-1zM309 538h1v3h-1zM310 539h1v4h-1zM311 540h1v6h-1zM312 542h1v8h-1zM313 545h1v8h-1zM314 549h1v7h-1zM315 552h1v6h-1zM316 555h1v5h-1zM317 557h1v6h-1zM318 559h1v6h-1zM319 562h1v5h-1zM320 564h1v5h-1zM321 566h1v3h-1zM322 567h1v2h-1zM323 567h1v2h-1zM324 567h1v2h-1zM325 567h1v2h-1zM326 566h1v2h-1zM327 564h1v3h-1zM328 563h1v3h-1zM329 563h1v2h-1zM330 562h1v2h-1zM331 562h1v2h-1zM332 562h1v2h-1zM333 562h1v2h-1zM334 561h1v2h-1zM335 561h1v2h-1zM336 561h1v2h-1zM337 561h1v2h-1zM338 561h1v2h-1zM339 561h1v2h-1zM340 561h1v2h-1zM341 561h1v2h-1zM342 561h1v2h-1zM343 561h1v2h-1zM344 561h1v2h-1zM345 561h1v2h-1zM346 560h1v2h-1zM347 559h1v2h-1zM348 557h1v3h-1zM349 556h1v3h-1zM350 555h1v2h-1zM351 554h1v2h-1zM352 553h1v2h-1zM353 552h1v2h-1zM354 551h1v2h-1zM355 549h1v3h-1zM356 546h1v5h-1zM357 542h1v7h-1zM358 539h1v7h-1zM359 535h1v7h-1zM360 531h1v8h-1zM361 527h1v8h-1zM362 524h1v7h-1zM363 522h1v5h-1zM364 521h1v3h-1zM365 519h1v3h-1zM366 517h1v4h-1zM367 516h1v3h-1zM368 515h1v2h-1zM369 514h1v2h-1zM370 513h1v2h-1zM371 512h1v2h-1zM372 511h1v2h-1zM373 511h1v2h-1zM374 510h1v2h-1zM375 510h1v2h-1zM376 510h1v2h-1zM377 510h1v2h-1zM378 509h1v2h-1zM379 509h1v2h-1zM380 509h1v2h-1zM381 509h1v3h-1zM382 510h1v2h-1zM383 510h1v3h-1zM384 511h1v2h-1zM385 511h1v3h-1zM386 512h1v3h-1zM387 513h1v3h-1zM388 514h1v3h-1zM389 515h1v3h-1zM390 516h1v3h-1zM391 517h1v3h-1zM392 518h1v3h-1zM393 519h1v3h-1zM394 520h1v3h-1zM395 521h1v3h-1zM396 522h1v2h-1zM397 522h1v3h-1zM398 523h1v3h-1zM399 524h1v4h-1zM400 525h1v5h-1zM401 527h1v5h-1zM402 529h1v5h-1zM403 531h1v4h-1zM404 533h1v3h-1zM405 534h1v3h-1zM406 535h1v3h-1zM407 536h1v3h-1zM408 537h1v3h-1zM409 538h1v3h-1zM410 539h1v3h-1zM411 540h1v2h-1zM412 540h1v3h-1zM413 541h1v2h-1zM414 541h1v3h-1zM415 542h1v2h-1zM416 542h1v3h-1zM417 543h1v3h-1zM418 544h1v2h-1zM419 544h1v3h-1zM420 545h1v3h-1zM421 546h1v3h-1zM422 547h1v2h-1zM423 547h1v3h-1zM424 548h1v2h-1zM425 548h1v2h-1zM426 548h1v2h-1zM427 547h1v2h-1zM428 547h1v2h-1zM429 546h1v2h-1zM430 546h1v2h-1zM431 545h1v2h-1zM432 545h1v2h-1zM433 544h1v2h-1zM434 544h1v2h-1zM435 543h1v2h-1zM436 543h1v2h-1zM437 542h1v2h-1zM438 542h1v2h-1zM439 541h1v2h-1zM440 541h1v2h-1zM441 541h1v2h-1zM442 540h1v2h-1zM443 540h1v2h-1zM444 540h1v2h-1zM445 539h1v2h-1zM446 539h1v2h-1zM447 539h1v2h-1zM448 539h1v2h-1zM449 539h1v2h-1zM450 539h1v2h-1zM451 539h1v2h-1zM452 539h1v3h-1zM453 540h1v2h-1zM454 540h1v3h-1zM455 541h1v2h-1zM456 541h1v3h-1zM457 542h1v2h-1zM458 542h1v2h-1zM459 542h1v2h-1zM460 542h1v2h-1zM461 542h1v3h-1zM462 543h1v2h-1zM463 543h1v2h-1zM464 543h1v2h-1zM465 543h1v2h-1zM466 543h1v2h-1zM467 543h1v2h-1zM468 543h1v2h-1zM469 543h1v2h-1zM470 543h1v2h-1zM471 543h1v2h-1zM472 543h1v2h-1zM473 543h1v2h-1zM474 543h1v3h-1zM475 544h1v2h-1zM476 544h1v3h-1zM477 545h1v2h-1zM478 545h1v2h-1zM479 545h1v2h-1zM480 545h1v2h-1zM481 545h1v2h-1zM482 545h1v2h-1zM483 545h1v2h-1zM484 545h1v2h-1zM485 545h1v2h-1zM486 545h1v2h-1zM487 544h1v2h-1zM488 543h1v2h-1zM489 543h1v2h-1zM490 542h1v2h-1zM491 540h1v3h-1zM492 538h1v4h-1zM493 536h1v4h-1zM494 534h1v4h-1zM495 533h1v3h-1zM496 532h1v2h-1zM497 532h1v2h-1zM498 531h1v2h-1zM499 530h1v2h-1zM500 530h1v2h-1zM501 530h1v3h-1zM502 531h1v2h-1zM503 531h1v2h-1zM504 531h1v3h-1zM505 532h1v3h-1zM506 533h1v3h-1zM507 534h1v3h-1zM508 535h1v3h-1zM509 536h1v3h-1zM510 537h1v4h-1zM511 538h1v5h-1zM512 540h1v5h-1zM513 542h1v6h-1zM514 544h1v6h-1zM515 547h1v5h-1zM516 549h1v5h-1zM517 551h1v5h-1zM518 553h1v5h-1zM519 555h1v5h-1zM520 557h1v3h-1zM521 558h1v2h-1zM522 558h1v2h-1zM523 558h1v2h-1zM524 558h1v2h-1zM525 558h1v2h-1zM526 557h1v2h-1zM527 556h1v2h-1zM528 556h1v2h-1zM529 555h1v2h-1zM530 555h1v2h-1zM531 554h1v2h-1zM532 554h1v2h-1zM533 554h1v2h-1zM534 553h1v2h-1zM535 551h1v3h-1zM536 550h1v3h-1zM537 549h1v2h-1zM538 549h1v2h-1zM539 548h1v2h-1zM540 548h1v2h-1zM541 547h1v2h-1zM542 547h1v2h-1zM543 547h1v2h-1zM544 547h1v2h-1zM545 546h1v2h-1zM546 546h1v2h-1zM547 546h1v2h-1zM548 544h1v3h-1zM549 542h1v4h-1zM550 541h1v3h-1zM551 539h1v3h-1zM552 537h1v4h-1zM553 535h1v4h-1zM554 533h1v4h-1zM555 531h1v4h-1zM556 530h1v3h-1zM557 528h1v3h-1zM558 527h1v3h-1zM559 527h1v2h-1zM560 526h1v2h-1zM561 526h1v2h-1zM562 526h1v2h-1zM563 525h1v2h-1zM564 525h1v2h-1zM565 525h1v2h-1zM566 524h1v2h-1zM567 524h1v2h-1zM568 524h1v2h-1zM569 524h1v2h-1zM570 524h1v3h-1zM571 525h1v2h-1zM572 525h1v2h-1zM573 525h1v2h-1zM574 525h1v3h-1zM575 526h1v2h-1zM576 526h1v3h-1zM577 527h1v3h-1zM578 528h1v3h-1zM579 529h1v2h-1zM580 529h1v3h-1zM581 530h1v3h-1zM582 531h1v3h-1zM583 532h1v2h-1zM584 532h1v3h-1zM585 533h1v3h-1zM586 534h1v3h-1zM587 535h1v2h-1zM588 535h1v3h-1zM589 536h1v2h-1zM590 536h1v2h-1zM591 536h1v2h-1zM592 536h1v2h-1zM593 536h1v3h-1zM594 537h1v2h-1zM595 537h1v2h-1zM596 537h1v2h-1zM597 537h1v2h-1zM598 537h1v2h-1zM599 537h1v3h-1zM600 538h1v2h-1zM601 538h1v2h-1zM602 538h1v2h-1zM603 538h1v3h-1zM604 539h1v2h-1zM605 539h1v3h-1zM606 540h1v2h-1zM607 540h1v3h-1zM608 541h1v2h-1zM609 541h1v3h-1zM610 542h1v2h-1zM611 542h1v3h-1zM612 543h1v2h-1zM613 543h1v2h-1zM614 543h1v2h-1zM615 543h1v2h-1zM616 542h1v2h-1zM617 542h1v2h-1zM618 542h1v2h-1zM619 542h1v2h-1zM620 542h1v2h-1zM621 542h1v2h-1zM622 541h1v2h-1zM623 541h1v2h-1zM624 540h1v2h-1zM625 540h1v2h-1zM626 540h1v3h-1zM627 541h1v2h-1zM628 541h1v3h-1zM629 542h1v2h-1zM630 542h1v2h-1zM631 542h1v2h-1zM632 542h1v2h-1zM633 542h1v2h-1zM634 542h1v2h-1zM635 542h1v2h-1zM636 542h1v2h-1zM637 542h1v2h-1zM638 541h1v2h-1zM639 541h1v2h-1zM640 540h1v2h-1zM641 540h1v2h-1zM642 540h1v2h-1zM643 540h1v2h-1zM644 539h1v2h-1zM645 539h1v2h-1zM646 539h1v2h-1zM647 539h1v2h-1zM648 539h1v3h-1zM649 540h1v2h-1zM650 540h1v3h-1zM651 541h1v2h-1zM652 541h1v3h-1zM653 542h1v2h-1zM654 542h1v3h-1zM655 543h1v2h-1zM656 543h1v2h-1zM657 543h1v2h-1zM658 543h1v2h-1zM659 543h1v2h-1zM660 543h1v2h-1zM661 543h1v2h-1zM662 543h1v2h-1zM663 543h1v2h-1zM664 543h1v2h-1zM665 542h1v2h-1zM666 542h1v2h-1zM667 542h1v3h-1zM668 543h1v2h-1zM669 543h1v3h-1zM670 544h1v2h-1zM671 544h1v3h-1zM672 545h1v2h-1zM673 544h1v2h-1zM674 544h1v2h-1zM675 543h1v2h-1zM676 543h1v2h-1zM677 542h1v2h-1zM678 542h1v2h-1zM679 541h1v2h-1zM680 541h1v2h-1zM681 540h1v2h-1zM682 540h1v2h-1zM683 539h1v2h-1zM684 539h1v2h-1zM685 538h1v2h-1zM686 537h1v2h-1zM687 536h1v2h-1zM688 536h1v2h-1zM689 535h1v2h-1zM690 534h1v2h-1zM691 534h1v2h-1zM692 534h1v2h-1zM693 534h1v2h-1zM694 534h1v2h-1zM695 534h1v2h-1zM696 534h1v2h-1zM697 534h1v2h-1zM698 534h1v2h-1zM699 534h1v2h-1zM700 534h1v2h-1zM701 534h1v2h-1zM702 534h1v2h-1zM703 534h1v3h-1zM704 535h1v2h-1zM705 535h1v2h-1zM706 535h1v2h-1zM707 535h1v3h-1zM708 536h1v2h-1zM709 536h1v2h-1zM710 536h1v3h-1zM711 537h1v2h-1zM712 537h1v3h-1zM713 538h1v3h-1zM714 539h1v2h-1zM715 539h1v3h-1zM716 540h1v4h-1zM717 541h1v4h-1zM718 543h1v3h-1zM719 544h1v4h-1zM720 545h1v4h-1zM721 547h1v3h-1zM722 548h1v4h-1zM723 549h1v4h-1zM724 551h1v3h-1zM725 552h1v2h-1zM726 552h1v3h-1zM727 553h1v2h-1zM728 553h1v2h-1zM729 553h1v2h-1zM730 553h1v3h-1zM731 554h1v2h-1zM732 554h1v2h-1zM733 554h1v2h-1zM734 553h1v2h-1zM735 553h1v2h-1zM736 553h1v2h-1zM737 552h1v2h-1zM738 551h1v2h-1zM739 550h1v2h-1zM740 549h1v2h-1zM741 548h1v2h-1zM742 548h1v2h-1zM743 547h1v2h-1zM744 547h1v2h-1zM745 546h1v2h-1zM746 546h1v2h-1zM747 546h1v2h-1zM748 545h1v2h-1zM749 545h1v2h-1zM750 545h1v2h-1zM751 545h1v3h-1zM752 546h1v2h-1zM753 546h1v2h-1zM754 546h1v2h-1zM755 546h1v3h-1zM756 547h1v2h-1zM757 547h1v3h-1zM758 548h1v2h-1zM759 548h1v3h-1zM760 549h1v3h-1zM761 550h1v2h-1zM762 550h1v3h-1zM763 551h1v4h-1zM764 552h1v4h-1zM765 554h1v4h-1zM766 555h1v4h-1zM767 557h1v2h-1zM768 557h1v2h-1zM769 557h1v2h-1zM770 557h1v2h-1zM771 557h1v2h-1zM772 555h1v3h-1zM773 553h1v4h-1zM774 551h1v4h-1zM775 550h1v3h-1zM776 548h1v3h-1zM777 546h1v4h-1zM778 544h1v4h-1zM779 542h1v4h-1zM780 540h1v4h-1zM781 538h1v4h-1zM782 536h1v4h-1zM783 535h1v3h-1zM784 533h1v3h-1zM785 531h1v4h-1zM786 530h1v3h-1zM787 529h1v2h-1zM788 528h1v2h-1zM789 527h1v2h-1zM790 526h1v2h-1zM791 525h1v2h-1zM792 524h1v2h-1zM793 523h1v2h-1zM794 522h1v2h-1zM795 522h1v2h-1zM796 521h1v2h-1zM797 521h1v2h-1zM798 520h1v2h-1zM799 520h1v2h-1zM800 520h1v2h-1zM801 520h1v2h-1zM802 520h1v3h-1zM803 521h1v2h-1zM804 521h1v2h-1zM805 521h1v2h-1zM806 521h1v3h-1zM807 522h1v2h-1zM808 522h1v3h-1zM809 523h1v3h-1zM810 524h1v3h-1zM811 525h1v2h-1zM812 525h1v3h-1zM813 526h1v3h-1zM814 527h1v3h-1zM815 528h1v3h-1zM816 529h1v3h-1zM817 530h1v3h-1zM818 531h1v3h-1zM819 532h1v4h-1zM820 533h1v5h-1zM821 535h1v5h-1zM822 537h1v5h-1zM823 539h1v5h-1zM824 541h1v4h-1zM825 543h1v3h-1zM826 544h1v4h-1zM827 545h1v4h-1zM828 547h1v3h-1zM829 548h1v2h-1zM830 548h1v3h-1zM831 549h1v2h-1zM832 549h1v3h-1zM833 550h1v2h-1zM834 550h1v3h-1zM835 551h1v2h-1zM836 551h1v2h-1zM837 551h1v2h-1zM838 551h1v2h-1zM839 550h1v2h-1zM840 549h1v2h-1zM841 547h1v3h-1zM842 546h1v3h-1zM843 545h1v2h-1zM844 544h1v2h-1zM845 543h1v2h-1zM846 541h1v3h-1zM847 540h1v3h-1zM848 539h1v2h-1zM849 537h1v3h-1zM850 536h1v3h-1zM851 534h1v3h-1zM852 533h1v3h-1zM853 532h1v2h-1zM854 530h1v3h-1zM855 529h1v3h-1zM856 528h1v2h-1zM857 528h1v2h-1zM858 527h1v2h-1zM859 527h1v2h-1zM860 526h1v2h-1zM861 526h1v2h-1zM862 526h1v3h-1zM863 527h1v2h-1zM864 527h1v3h-1zM865 528h1v2h-1zM866 528h1v4h-1zM867 529h1v5h-1zM868 531h1v5h-1zM869 533h1v4h-1zM870 535h1v4h-1zM871 536h1v4h-1zM872 538h1v4h-1zM873 539h1v4h-1zM874 541h1v4h-1zM875 542h1v4h-1zM876 544h1v2h-1zM877 544h1v2h-1zM878 544h1v3h-1zM879 545h1v2h-1zM880 545h1v2h-1zM881 545h1v2h-1zM882 545h1v3h-1zM883 546h1v2h-1zM884 546h1v2h-1zM885 546h1v3h-1zM886 547h1v2h-1zM887 547h1v3h-1zM888 548h1v2h-1zM889 548h1v3h-1zM890 549h1v2h-1zM891 549h1v3h-1zM892 550h1v2h-1zM893 550h1v3h-1zM894 551h1v2h-1zM895 551h1v2h-1zM896 551h1v2h-1zM897 550h1v2h-1zM898 550h1v2h-1zM899 549h1v2h-1zM900 549h1v2h-1zM901 548h1v2h-1zM902 548h1v2h-1zM903 548h1v3h-1zM904 549h1v2h-1zM905 549h1v2h-1zM906 549h1v2h-1zM907 549h1v3h-1zM908 550h1v2h-1zM909 550h1v2h-1zM910 550h1v2h-1zM911 550h1v2h-1zM912 550h1v2h-1zM913 550h1v2h-1zM914 550h1v2h-1zM915 550h1v2h-1zM916 549h1v2h-1zM917 548h1v2h-1zM918 546h1v3h-1zM919 545h1v3h-1zM920 544h1v2h-1zM921 543h1v2h-1zM922 542h1v2h-1zM923 542h1v2h-1zM924 541h1v2h-1zM925 541h1v2h-1zM926 541h1v3h-1zM927 542h1v2h-1zM928 542h1v3h-1zM929 543h1v2h-1zM930 543h1v3h-1zM931 544h1v4h-1zM932 545h1v4h-1zM933 547h1v3h-1zM934 548h1v3h-1zM935 549h1v4h-1zM936 550h1v4h-1zM937 552h1v3h-1zM938 553h1v2h-1zM939 553h1v2h-1zM940 553h1v2h-1zM941 553h1v2h-1zM942 553h1v2h-1zM943 553h1v2h-1zM944 553h1v2h-1zM945 553h1v2h-1zM946 553h1v2h-1zM947 553h1v2h-1zM948 553h1v2h-1zM949 552h1v2h-1zM950 551h1v2h-1zM951 550h1v2h-1zM952 549h1v2h-1zM953 548h1v2h-1zM954 547h1v2h-1zM955 546h1v2h-1zM956 545h1v2h-1zM957 544h1v2h-1zM958 544h1v2h-1zM959 543h1v2h-1zM960 542h1v2h-1zM961 541h1v2h-1zM962 540h1v2h-1zM963 538h1v3h-1zM964 537h1v3h-1zM965 536h1v2h-1zM966 534h1v3h-1zM967 533h1v3h-1zM968 532h1v2h-1zM969 531h1v2h-1zM970 530h1v2h-1zM971 529h1v2h-1zM972 529h1v2h-1zM973 529h1v2h-1zM974 529h1v2h-1zM975 528h1v2h-1zM976 528h1v2h-1zM977 528h1v2h-1zM978 528h1v2h-1zM979 528h1v2h-1zM980 527h1v2h-1zM981 526h1v2h-1zM982 525h1v2h-1zM983 524h1v2h-1zM984 523h1v2h-1zM985 522h1v2h-1zM986 521h1v2h-1zM987 519h1v3h-1zM988 518h1v3h-1zM989 517h1v2h-1zM990 515h1v3h-1zM991 514h1v3h-1zM992 512h1v3h-1zM993 511h1v3h-1zM994 511h1v2h-1zM995 511h1v2h-1zM996 510h1v2h-1zM997 510h1v2h-1zM998 510h1v2h-1zM999 510h1v2h-1zM1000 510h1v3h-1zM1001 511h1v2h-1zM1002 511h1v3h-1zM1003 511h1v5h-1zM1004 513h1v5h-1zM1005 515h1v5h-1zM1006 517h1v5h-1zM1007 519h1v6h-1zM1008 521h1v7h-1zM1009 524h1v7h-1zM1010 527h1v7h-1zM1011 530h1v7h-1zM1012 533h1v6h-1zM1013 536h1v5h-1zM1014 538h1v4h-1zM1015 540h1v4h-1zM1016 541h1v5h-1zM1017 543h1v4h-1zM1018 545h1v4h-1zM1019 546h1v4h-1zM1020 548h1v4h-1zM1021 549h1v4h-1zM1022 551h1v2h-1zM1023 551h1v2h-1zM1024 551h1v2h-1zM1025 551h1v2h-1zM1026 551h1v2h-1zM1027 550h1v2h-1zM1028 548h1v3h-1zM1029 547h1v3h-1zM1030 546h1v2h-1zM1031 544h1v3h-1zM1032 543h1v3h-1zM1033 542h1v2h-1zM1034 542h1v2h-1zM1035 541h1v2h-1zM1036 541h1v2h-1zM1037 540h1v2h-1zM1038 540h1v3h-1zM1039 541h1v3h-1zM1040 542h1v4h-1zM1041 543h1v4h-1zM1042 545h1v3h-1zM1043 546h1v4h-1zM1044 547h1v4h-1zM1045 549h1v3h-1zM1046 550h1v4h-1zM1047 551h1v4h-1zM1048 553h1v3h-1zM1049 554h1v4h-1zM1050 555h1v4h-1zM1051 557h1v4h-1zM1052 558h1v5h-1zM1053 560h1v5h-1zM1054 562h1v5h-1zM1055 564h1v5h-1zM1056 566h1v5h-1zM1057 568h1v5h-1zM1058 570h1v6h-1zM1059 572h1v6h-1zM1060 575h1v6h-1zM1061 577h1v6h-1zM1062 580h1v6h-1zM1063 582h1v8h-1zM1064 585h1v9h-1zM1065 589h1v8h-1zM1066 593h1v5h-1zM1067 596h1v3h-1zM1068 597h1v3h-1zM1069 598h1v3h-1zM1070 599h1v3h-1zM1071 600h1v3h-1zM1072 598h1v4h-1zM1073 595h1v5h-1zM1074 591h1v7h-1zM1075 587h1v8h-1zM1076 583h1v8h-1zM1077 579h1v8h-1zM1078 575h1v8h-1zM1079 569h1v10h-1zM1080 563h1v12h-1zM1081 557h1v12h-1zM1082 551h1v12h-1zM1083 545h1v12h-1zM1084 539h1v12h-1zM1085 536h1v9h-1zM1086 535h1v4h-1zM1087 534h1v2h-1zM1088 533h1v2h-1zM1089 532h1v2h-1zM1090 532h1v3h-1zM1091 533h1v3h-1zM1092 534h1v3h-1zM1093 535h1v3h-1zM1094 536h1v2h-1zM1095 535h1v2h-1zM1096 535h1v2h-1zM1097 534h1v3h-1zM1098 532h1v4h-1zM1099 530h1v4h-1zM1100 528h1v4h-1zM1101 525h1v5h-1zM1102 523h1v5h-1zM1103 521h1v4h-1zM1104 519h1v4h-1zM1105 517h1v4h-1zM1106 515h1v4h-1zM1107 515h1v2h-1z"/>
<ellipse cx="1113.2" cy="529.9" rx="21.5" ry="35.5" fill="none" stroke="#F4801E" stroke-width="2.7"/>
</svg>
<div class="t" style="left:30.7px;top:4.60px;font-size:13px;letter-spacing:-0.02px;">S&amp;P 500 (SP500_IDX)</div>
<div class="t" style="left:1289.3px;top:50.00px;font-size:13px;letter-spacing:-0.15px;">1350.00</div>
<div class="t" style="left:1289.3px;top:111.00px;font-size:13px;letter-spacing:-0.15px;">1300.00</div>
<div class="t" style="left:1289.3px;top:173.00px;font-size:13px;letter-spacing:-0.15px;">1250.00</div>
<div class="t" style="left:1289.3px;top:234.00px;font-size:13px;letter-spacing:-0.15px;">1200.00</div>
<div class="t" style="left:1289.3px;top:295.00px;font-size:13px;letter-spacing:-0.15px;">1150.00</div>
<div class="t" style="left:1289.3px;top:356.00px;font-size:13px;letter-spacing:-0.15px;">1100.00</div>
<div class="t" style="left:1289.3px;top:417.00px;font-size:13px;letter-spacing:-0.15px;">1050.00</div>
<div class="t" style="left:1289.3px;top:478.00px;font-size:13px;letter-spacing:-0.15px;">1000.00</div>
<div class="t" style="left:40.3px;top:615.00px;font-size:13px;letter-spacing:0px;">Apr</div>
<div class="t" style="left:103.3px;top:615.00px;font-size:13px;letter-spacing:0px;">May</div>
<div class="t" style="left:163.3px;top:615.00px;font-size:13px;letter-spacing:0px;">Jun</div>
<div class="t" style="left:229.3px;top:615.00px;font-size:13px;letter-spacing:0px;">Jul</div>
<div class="t" style="left:292.3px;top:615.00px;font-size:13px;letter-spacing:0px;">Aug</div>
<div class="t" style="left:358.3px;top:615.00px;font-size:13px;letter-spacing:0px;">Sep</div>
<div class="t" style="left:421.3px;top:615.00px;font-size:13px;letter-spacing:0px;">Oct</div>
<div class="t" style="left:484.3px;top:615.00px;font-size:13px;letter-spacing:0px;">Nov</div>
<div class="t" style="left:550.3px;top:615.00px;font-size:13px;letter-spacing:0px;">Dec</div>
<div class="t" style="left:616.3px;top:615.00px;font-size:13px;letter-spacing:0px;">2011</div>
<div class="t" style="left:676.3px;top:615.00px;font-size:13px;letter-spacing:0px;">Feb</div>
<div class="t" style="left:733.3px;top:615.00px;font-size:13px;letter-spacing:0px;">Mar</div>
<div class="t" style="left:802.3px;top:615.00px;font-size:13px;letter-spacing:0px;">Apr</div>
<div class="t" style="left:862.3px;top:615.00px;font-size:13px;letter-spacing:0px;">May</div>
<div class="t" style="left:925.3px;top:615.00px;font-size:13px;letter-spacing:0px;">Jun</div>
<div class="t" style="left:991.3px;top:615.00px;font-size:13px;letter-spacing:0px;">Jul</div>
<div class="t" style="left:1051.3px;top:615.00px;font-size:13px;letter-spacing:0px;">Aug</div>
<div class="t" style="left:1119.3px;top:615.00px;font-size:13px;letter-spacing:0px;">Sep</div>
<div class="t" style="left:1186.3px;top:615.00px;font-size:13px;letter-spacing:0px;">Oct</div>
<div class="t" style="left:0.8px;top:505.00px;font-size:13px;letter-spacing:-0.14px;">EARL(8,11): .0000; .0000</div>
<div class="t" style="left:1337.3px;top:534.30px;font-size:13px;letter-spacing:0px;">0</div>
<div class="t" style="left:1340.2px;top:522.00px;font-size:13px;letter-spacing:0px;">.</div>
<div class="t" style="left:1340.2px;top:553.50px;font-size:13px;letter-spacing:0px;">.</div>
<div class="t" style="left:1340.2px;top:573.50px;font-size:13px;letter-spacing:0px;">.</div>
<div class="t" style="left:1340.2px;top:593.50px;font-size:13px;letter-spacing:0px;">.</div>
</body></html>
